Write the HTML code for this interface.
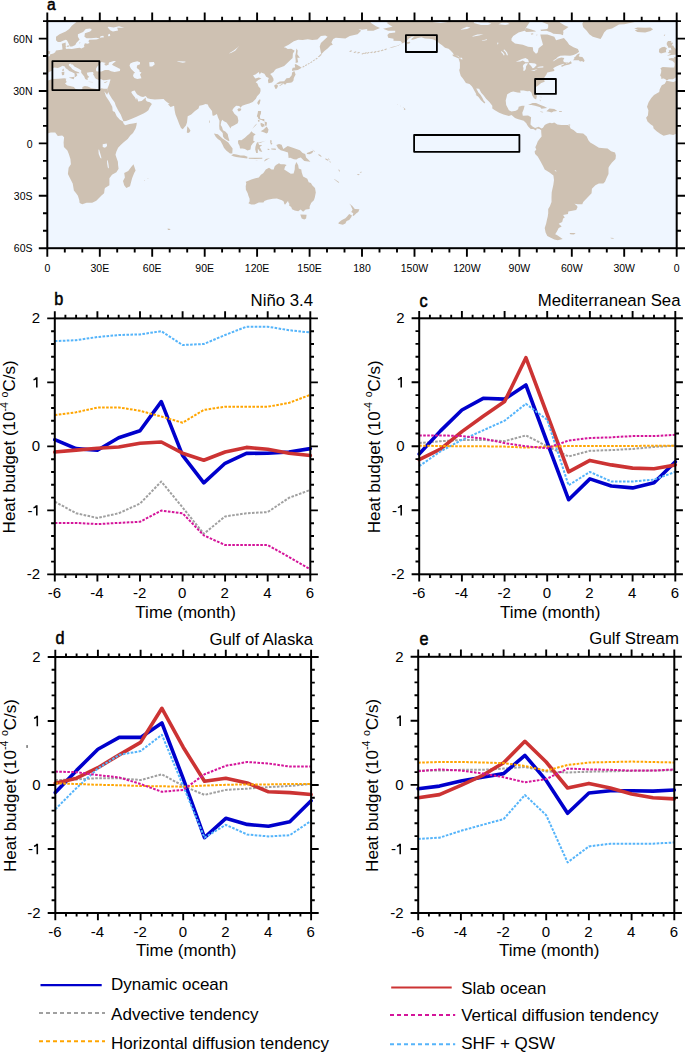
<!DOCTYPE html>
<html><head><meta charset="utf-8"><style>
html,body{margin:0;padding:0;background:#fff;width:685px;height:1053px;overflow:hidden}
svg{display:block}
text{font-family:"Liberation Sans",sans-serif;fill:#000}
.ml{font-size:10.5px}
.pl{font-size:18px;font-weight:normal;stroke:#000;stroke-width:0.55px}
.tl{font-size:15px}
.al{font-size:17px}
.tt{font-size:16.8px}
.lg{font-size:17px}
</style></head><body>
<svg width="685" height="1053" viewBox="0 0 685 1053">
<rect width="685" height="1053" fill="#fff"/>
<defs><clipPath id="mclip"><rect x="47.3" y="21.1" width="629.4" height="227.1"/></clipPath></defs>
<rect x="47.3" y="21.1" width="629.4" height="227.1" fill="#eff6ff"/>
<g clip-path="url(#mclip)">
<path d="M37.0 80.8L43.8 82.1L47.3 80.7L52.5 79.1L58.7 78.7L64.4 78.2L66.4 78.7L65.7 80.0L66.7 81.9L65.0 83.5L67.4 85.6L70.0 85.9L73.9 87.0L75.3 88.7L79.6 90.3L82.3 89.4L82.4 87.1L84.9 85.9L87.9 86.4L91.4 88.2L95.4 88.7L98.9 89.4L101.5 88.2L103.8 88.7L107.1 88.7L108.3 91.9L107.1 94.8L104.3 91.2L105.9 96.2L109.4 101.5L112.3 106.7L112.7 111.1L114.8 111.9L116.7 116.3L119.9 119.8L123.0 121.5L123.4 123.3L125.1 125.2L129.5 124.0L133.0 123.6L136.8 122.8L136.5 125.2L135.6 128.5L133.0 132.9L130.3 135.5L127.7 139.0L123.4 142.5L120.7 145.1L118.1 147.8L116.4 151.6L115.5 154.7L116.4 157.4L117.9 161.7L118.1 165.2L118.6 168.7L116.4 172.2L112.0 174.8L109.4 178.3L109.4 182.7L109.4 185.3L105.0 187.9L104.6 189.3L104.1 193.2L101.5 195.6L96.3 200.7L92.2 202.8L86.6 202.8L82.3 204.2L79.6 203.0L79.3 200.2L77.9 195.8L76.1 193.2L73.9 190.6L72.7 183.6L70.0 178.3L67.9 174.0L68.6 167.8L70.9 164.3L70.4 159.1L68.8 153.9L67.4 150.4L63.9 146.9L63.6 142.5L64.1 137.3L62.2 135.5L57.8 135.9L55.2 132.4L50.8 132.4L47.3 133.6L43.8 135.0L40.3 134.3L34.2 135.7L30.7 133.8L27.2 131.2L24.2 128.5L23.7 125.9L21.1 124.2L18.1 121.5L16.7 117.7L18.5 115.4L19.0 110.2L17.6 106.7L19.3 102.0L21.9 98.0L24.6 95.0L29.8 91.9L30.3 89.2L32.4 85.2L35.4 83.8ZM666.4 80.8L673.2 82.1L676.7 80.7L681.9 79.1L688.1 78.7L693.8 78.2L695.8 78.7L695.1 80.0L696.1 81.9L694.4 83.5L696.8 85.6L699.4 85.9L703.3 87.0L704.7 88.7L709.0 90.3L711.7 89.4L711.8 87.1L714.3 85.9L717.3 86.4L720.8 88.2L724.8 88.7L728.3 89.4L730.9 88.2L733.2 88.7L736.5 88.7L737.7 91.9L736.5 94.8L733.7 91.2L735.3 96.2L738.8 101.5L741.7 106.7L742.1 111.1L744.2 111.9L746.1 116.3L749.3 119.8L752.4 121.5L752.8 123.3L754.5 125.2L758.9 124.0L762.4 123.6L766.2 122.8L765.9 125.2L765.0 128.5L762.4 132.9L759.7 135.5L757.1 139.0L752.8 142.5L750.1 145.1L747.5 147.8L745.8 151.6L744.9 154.7L745.8 157.4L747.3 161.7L747.5 165.2L748.0 168.7L745.8 172.2L741.4 174.8L738.8 178.3L738.8 182.7L738.8 185.3L734.4 187.9L734.0 189.3L733.5 193.2L730.9 195.6L725.7 200.7L721.6 202.8L716.0 202.8L711.7 204.2L709.0 203.0L708.7 200.2L707.3 195.8L705.5 193.2L703.3 190.6L702.1 183.6L699.4 178.3L697.3 174.0L698.0 167.8L700.3 164.3L699.8 159.1L698.2 153.9L696.8 150.4L693.3 146.9L693.0 142.5L693.5 137.3L691.6 135.5L687.2 135.9L684.6 132.4L680.2 132.4L676.7 133.6L673.2 135.0L669.7 134.3L663.6 135.7L660.1 133.8L656.6 131.2L653.6 128.5L653.1 125.9L650.5 124.2L647.5 121.5L646.1 117.7L647.9 115.4L648.4 110.2L647.0 106.7L648.7 102.0L651.3 98.0L654.0 95.0L659.2 91.9L659.7 89.2L661.8 85.2L664.8 83.8ZM133.5 164.3L135.6 170.5L134.2 173.1L132.1 178.3L130.0 186.2L126.3 187.9L124.2 185.3L123.0 180.9L124.9 177.4L124.2 173.1L128.2 171.0L131.2 167.0ZM762.9 164.3L765.0 170.5L763.6 173.1L761.5 178.3L759.4 186.2L755.7 187.9L753.6 185.3L752.4 180.9L754.3 177.4L753.6 173.1L757.6 171.0L760.6 167.0ZM82.3 12.4L76.1 22.3L71.8 25.8L69.2 29.0L65.7 31.6L59.5 34.2L56.0 36.8L56.0 40.3L57.8 42.1L60.4 42.1L63.0 40.7L65.7 39.8L66.9 40.3L67.9 42.1L69.2 44.7L70.0 46.6L72.1 46.6L75.3 45.0L76.3 42.9L79.6 39.4L77.9 36.8L77.9 34.2L83.1 31.9L85.8 29.0L90.1 28.4L91.9 29.8L90.1 31.6L84.9 33.3L84.4 36.8L86.6 38.2L91.0 38.2L96.3 37.7L99.8 38.6L96.3 39.4L89.3 39.8L88.4 41.2L89.6 42.9L87.5 43.8L84.9 43.3L84.0 45.6L84.4 47.0L81.4 48.4L79.6 47.7L76.1 48.2L71.8 49.1L68.3 48.7L66.5 49.1L65.7 48.2L65.7 42.6L61.8 43.8L62.2 46.4L62.5 49.4L59.5 49.9L56.0 50.4L55.2 52.2L53.4 53.6L49.9 54.5L49.9 56.0L47.6 56.7L45.2 57.1L44.2 56.6L44.7 58.3L42.1 58.1L39.1 58.8L39.8 59.9L42.9 60.8L45.2 63.0L45.2 65.5L44.7 67.6L41.2 67.4L37.7 67.2L33.3 67.0L31.0 68.3L31.9 70.0L31.7 72.6L30.7 75.6L31.9 77.0L31.7 78.7L34.4 78.4L36.3 79.6L37.5 80.5L39.4 79.3L43.5 79.3L46.1 77.7L47.6 75.6L46.8 74.4L48.7 72.3L52.9 70.2L52.7 68.3L54.3 67.4L57.8 68.1L60.4 66.9L62.5 65.8L64.8 66.5L65.7 68.3L67.4 69.3L69.2 70.9L71.8 72.1L74.6 73.5L74.7 76.7L75.6 77.0L77.4 75.3L76.3 73.3L79.6 73.2L78.8 72.3L75.3 70.9L72.1 69.1L71.1 67.4L68.8 65.6L69.0 64.1L71.3 63.6L71.1 64.6L72.7 64.4L74.4 66.5L77.9 68.3L81.2 70.2L81.2 72.8L82.6 74.4L84.2 76.5L85.2 79.1L86.6 79.8L87.9 79.8L87.5 77.9L89.3 77.0L87.5 75.3L86.8 72.8L89.3 72.3L92.8 72.1L93.6 73.0L93.1 74.4L94.2 76.1L95.0 77.9L96.3 79.1L98.9 80.1L100.8 79.1L103.2 80.3L106.7 80.0L109.4 79.4L110.6 79.4L109.9 81.4L109.4 83.6L108.5 86.1L107.3 88.7L108.3 91.9L109.4 94.5L112.0 98.8L114.6 102.3L115.8 105.8L118.1 110.2L120.7 114.6L122.1 118.1L123.4 121.2L126.0 121.0L131.2 118.9L136.5 116.8L138.6 115.8L143.5 113.5L146.1 111.9L148.4 110.2L149.6 107.6L151.9 104.1L149.9 102.2L147.0 101.5L145.7 99.9L145.9 97.4L144.3 98.8L141.7 101.1L138.2 101.5L137.5 99.2L136.8 97.8L136.1 100.1L135.1 97.6L133.8 96.0L132.1 93.8L131.2 91.9L132.6 91.0L134.7 90.6L136.1 92.9L137.3 94.6L140.8 96.6L143.1 97.1L145.7 96.0L147.5 98.3L150.5 99.0L154.8 99.4L159.2 99.2L163.6 99.0L165.0 100.4L167.1 102.3L169.7 104.1L167.9 104.3L170.6 107.0L174.1 105.8L174.6 110.2L175.5 114.6L177.6 119.8L179.3 124.2L181.0 128.0L182.8 129.2L184.0 127.8L185.9 125.4L187.0 122.4L187.7 116.3L191.2 114.4L195.0 111.1L198.5 108.4L199.4 105.8L202.9 105.0L205.5 104.1L207.8 104.4L208.7 106.7L212.0 111.1L212.5 115.4L213.9 115.8L216.9 114.0L217.9 117.2L219.5 120.7L219.2 125.9L219.5 129.4L222.7 132.9L223.0 136.4L224.4 138.5L228.3 141.1L229.5 140.8L228.3 136.9L227.7 134.1L225.3 131.5L223.0 130.3L222.0 127.1L220.7 125.0L221.3 121.5L222.3 119.8L223.9 121.2L226.5 122.4L228.3 125.0L230.5 128.4L231.2 126.8L233.8 125.4L237.7 123.3L238.4 120.7L237.5 116.5L234.4 113.7L232.3 110.2L233.7 107.9L236.1 105.8L239.3 106.0L240.5 107.7L242.2 105.8L245.7 104.6L249.2 103.6L252.7 102.0L255.9 98.8L257.1 96.2L259.7 93.6L260.6 91.0L260.4 88.4L258.5 86.6L257.4 83.5L255.7 82.2L258.3 80.1L261.5 78.4L258.8 77.5L255.4 78.4L254.0 76.7L253.1 75.3L255.4 74.4L258.8 72.1L259.7 74.4L261.1 72.6L264.4 73.7L266.2 76.7L268.8 77.9L267.9 80.5L268.5 83.3L272.0 82.4L273.5 80.8L273.5 78.7L272.0 76.1L270.2 73.9L273.7 72.1L274.2 70.9L276.0 69.1L279.0 67.9L284.2 66.0L289.4 60.9L292.6 58.1L292.9 53.4L294.7 50.8L291.2 48.7L287.7 49.1L285.9 47.7L283.7 47.3L288.6 44.7L293.8 41.2L298.2 39.8L302.6 40.0L307.8 39.3L312.2 40.0L317.4 39.4L320.9 35.9L325.3 35.4L327.6 36.8L320.9 42.9L319.7 46.4L320.9 52.5L321.3 54.3L324.4 51.1L327.9 48.2L330.5 45.6L332.8 44.7L331.4 42.4L333.2 38.9L335.8 37.7L345.4 38.6L349.8 35.9L357.6 34.2L361.1 30.7L358.5 29.0L362.0 29.8L367.2 29.0L367.2 30.7L373.4 30.7L380.0 27.9L376.0 26.3L370.7 22.8L370.7 12.4ZM711.7 12.4L705.5 22.3L701.2 25.8L698.6 29.0L695.1 31.6L688.9 34.2L685.4 36.8L685.4 40.3L687.2 42.1L689.8 42.1L692.4 40.7L695.1 39.8L696.3 40.3L697.3 42.1L698.6 44.7L699.4 46.6L701.5 46.6L704.7 45.0L705.7 42.9L709.0 39.4L707.3 36.8L707.3 34.2L712.5 31.9L715.2 29.0L719.5 28.4L721.3 29.8L719.5 31.6L714.3 33.3L713.8 36.8L716.0 38.2L720.4 38.2L725.7 37.7L729.2 38.6L725.7 39.4L718.7 39.8L717.8 41.2L719.0 42.9L716.9 43.8L714.3 43.3L713.4 45.6L713.8 47.0L710.8 48.4L709.0 47.7L705.5 48.2L701.2 49.1L697.7 48.7L695.9 49.1L695.1 48.2L695.1 42.6L691.2 43.8L691.6 46.4L691.9 49.4L688.9 49.9L685.4 50.4L684.6 52.2L682.8 53.6L679.3 54.5L679.3 56.0L677.0 56.7L674.6 57.1L673.6 56.6L674.1 58.3L671.5 58.1L668.5 58.8L669.2 59.9L672.3 60.8L674.6 63.0L674.6 65.5L674.1 67.6L670.6 67.4L667.1 67.2L662.7 67.0L660.4 68.3L661.3 70.0L661.1 72.6L660.1 75.6L661.3 77.0L661.1 78.7L663.8 78.4L665.7 79.6L666.9 80.5L668.8 79.3L672.9 79.3L675.5 77.7L677.0 75.6L676.2 74.4L678.1 72.3L682.3 70.2L682.1 68.3L683.7 67.4L687.2 68.1L689.8 66.9L691.9 65.8L694.2 66.5L695.1 68.3L696.8 69.3L698.6 70.9L701.2 72.1L704.0 73.5L704.1 76.7L705.0 77.0L706.8 75.3L705.7 73.3L709.0 73.2L708.2 72.3L704.7 70.9L701.5 69.1L700.5 67.4L698.2 65.6L698.4 64.1L700.7 63.6L700.5 64.6L702.1 64.4L703.8 66.5L707.3 68.3L710.6 70.2L710.6 72.8L712.0 74.4L713.6 76.5L714.6 79.1L716.0 79.8L717.3 79.8L716.9 77.9L718.7 77.0L716.9 75.3L716.2 72.8L718.7 72.3L722.2 72.1L723.0 73.0L722.5 74.4L723.6 76.1L724.4 77.9L725.7 79.1L728.3 80.1L730.2 79.1L732.6 80.3L736.1 80.0L738.8 79.4L740.0 79.4L739.3 81.4L738.8 83.6L737.9 86.1L736.7 88.7L737.7 91.9L738.8 94.5L741.4 98.8L744.0 102.3L745.2 105.8L747.5 110.2L750.1 114.6L751.5 118.1L752.8 121.2L755.4 121.0L760.6 118.9L765.9 116.8L768.0 115.8L772.9 113.5L775.5 111.9L777.8 110.2L779.0 107.6L781.3 104.1L779.3 102.2L776.4 101.5L775.1 99.9L775.3 97.4L773.7 98.8L771.1 101.1L767.6 101.5L766.9 99.2L766.2 97.8L765.5 100.1L764.5 97.6L763.2 96.0L761.5 93.8L760.6 91.9L762.0 91.0L764.1 90.6L765.5 92.9L766.7 94.6L770.2 96.6L772.5 97.1L775.1 96.0L776.9 98.3L779.9 99.0L784.2 99.4L788.6 99.2L793.0 99.0L794.4 100.4L796.5 102.3L799.1 104.1L797.3 104.3L800.0 107.0L803.5 105.8L804.0 110.2L804.9 114.6L807.0 119.8L808.7 124.2L810.4 128.0L812.2 129.2L813.4 127.8L815.3 125.4L816.4 122.4L817.1 116.3L820.6 114.4L824.4 111.1L827.9 108.4L828.8 105.8L832.3 105.0L834.9 104.1L837.2 104.4L838.1 106.7L841.4 111.1L841.9 115.4L843.3 115.8L846.3 114.0L847.3 117.2L848.9 120.7L848.6 125.9L848.9 129.4L852.1 132.9L852.4 136.4L853.8 138.5L857.7 141.1L858.9 140.8L857.7 136.9L857.1 134.1L854.7 131.5L852.4 130.3L851.4 127.1L850.1 125.0L850.7 121.5L851.7 119.8L853.3 121.2L855.9 122.4L857.7 125.0L859.9 128.4L860.6 126.8L863.2 125.4L867.1 123.3L867.8 120.7L866.9 116.5L863.8 113.7L861.7 110.2L863.1 107.9L865.5 105.8L868.7 106.0L869.9 107.7L871.6 105.8L875.1 104.6L878.6 103.6L882.1 102.0L885.3 98.8L886.5 96.2L889.1 93.6L890.0 91.0L889.8 88.4L887.9 86.6L886.8 83.5L885.1 82.2L887.7 80.1L890.9 78.4L888.2 77.5L884.8 78.4L883.4 76.7L882.5 75.3L884.8 74.4L888.2 72.1L889.1 74.4L890.5 72.6L893.8 73.7L895.6 76.7L898.2 77.9L897.3 80.5L897.9 83.3L901.4 82.4L902.9 80.8L902.9 78.7L901.4 76.1L899.6 73.9L903.1 72.1L903.6 70.9L905.4 69.1L908.4 67.9L913.6 66.0L918.8 60.9L922.0 58.1L922.3 53.4L924.1 50.8L920.6 48.7L917.1 49.1L915.3 47.7L913.1 47.3L918.0 44.7L923.2 41.2L927.6 39.8L932.0 40.0L937.2 39.3L941.6 40.0L946.8 39.4L950.3 35.9L954.7 35.4L957.0 36.8L950.3 42.9L949.1 46.4L950.3 52.5L950.7 54.3L953.8 51.1L957.3 48.2L959.9 45.6L962.2 44.7L960.8 42.4L962.6 38.9L965.2 37.7L974.8 38.6L979.2 35.9L987.0 34.2L990.5 30.7L987.9 29.0L991.4 29.8L996.6 29.0L996.6 30.7L1002.8 30.7L1009.4 27.9L1005.4 26.3L1000.1 22.8L1000.1 12.4ZM37.3 56.0L42.1 55.0L45.6 54.8L49.7 53.9L50.3 51.5L47.8 50.8L47.3 49.7L44.7 47.3L43.8 45.6L42.1 45.6L43.8 42.8L41.2 42.6L42.1 41.0L38.6 41.0L37.3 42.9L37.5 45.0L38.6 46.4L38.9 47.7L41.5 47.7L41.7 49.1L42.1 50.3L39.4 50.3L39.8 51.7L38.2 52.9L41.7 53.6ZM666.7 56.0L671.5 55.0L675.0 54.8L679.1 53.9L679.7 51.5L677.2 50.8L676.7 49.7L674.1 47.3L673.2 45.6L671.5 45.6L673.2 42.8L670.6 42.6L671.5 41.0L668.0 41.0L666.7 42.9L666.9 45.0L668.0 46.4L668.3 47.7L670.9 47.7L671.1 49.1L671.5 50.3L668.8 50.3L669.2 51.7L667.6 52.9L671.1 53.6ZM36.8 52.5L36.5 50.3L37.5 48.2L35.1 46.8L32.4 47.3L29.8 49.1L29.5 52.2L31.6 53.4L36.3 52.2ZM666.2 52.5L665.9 50.3L666.9 48.2L664.5 46.8L661.8 47.3L659.2 49.1L658.9 52.2L661.0 53.4L665.7 52.2ZM8.0 31.9L5.3 30.2L8.8 29.5L4.8 28.8L8.0 27.4L15.8 27.7L21.1 27.4L23.7 29.3L21.1 31.1L15.8 32.6L11.5 32.3ZM637.4 31.9L634.7 30.2L638.2 29.5L634.2 28.8L637.4 27.4L645.2 27.7L650.5 27.4L653.1 29.3L650.5 31.1L645.2 32.6L640.9 32.3ZM-28.8 38.9L-36.6 36.8L-40.1 34.2L-42.7 30.7L-46.2 27.2L-47.1 23.7L-45.4 20.2L-48.9 12.4L12.3 12.4L8.8 19.4L5.3 22.0L-5.2 24.2L-10.4 24.6L-17.4 28.6L-22.6 29.8L-25.3 32.5L-27.0 35.9ZM600.6 38.9L592.8 36.8L589.3 34.2L586.7 30.7L583.2 27.2L582.3 23.7L584.0 20.2L580.5 12.4L641.7 12.4L638.2 19.4L634.7 22.0L624.2 24.2L619.0 24.6L612.0 28.6L606.8 29.8L604.1 32.5L602.4 35.9ZM276.2 84.0L277.2 82.9L279.8 81.4L284.2 81.2L286.5 78.2L289.4 77.9L291.7 75.3L292.1 72.6L294.3 71.1L295.6 74.4L293.8 77.9L293.5 80.5L292.1 82.2L290.3 82.8L286.8 82.9L285.1 84.7L283.3 83.5L280.7 83.5L278.1 84.2ZM905.6 84.0L906.6 82.9L909.2 81.4L913.6 81.2L915.9 78.2L918.8 77.9L921.1 75.3L921.5 72.6L923.7 71.1L925.0 74.4L923.2 77.9L922.9 80.5L921.5 82.2L919.7 82.8L916.2 82.9L914.5 84.7L912.7 83.5L910.1 83.5L907.5 84.2ZM274.6 84.9L276.3 84.2L278.1 85.7L276.9 88.5L275.5 88.9L274.2 86.1ZM904.0 84.9L905.7 84.2L907.5 85.7L906.3 88.5L904.9 88.9L903.6 86.1ZM279.0 85.7L282.5 83.6L282.8 84.3L280.2 85.7ZM908.4 85.7L911.9 83.6L912.2 84.3L909.6 85.7ZM292.1 70.9L294.2 70.4L297.8 70.0L301.7 67.7L299.9 66.5L295.6 63.9L294.7 64.8L295.2 67.4L292.8 67.7L292.1 69.3ZM921.5 70.9L923.6 70.4L927.2 70.0L931.1 67.7L929.3 66.5L925.0 63.9L924.1 64.8L924.6 67.4L922.2 67.7L921.5 69.3ZM295.6 63.0L298.2 62.2L297.3 57.8L299.9 57.8L297.3 54.3L297.7 50.4L296.4 48.5L295.9 52.5L295.2 56.0L295.7 60.4ZM925.0 63.0L927.6 62.2L926.7 57.8L929.3 57.8L926.7 54.3L927.1 50.4L925.8 48.5L925.3 52.5L924.6 56.0L925.1 60.4ZM257.4 103.6L258.7 105.1L259.7 103.6L260.6 99.7L259.2 99.5L257.4 102.3ZM886.8 103.6L888.1 105.1L889.1 103.6L890.0 99.7L888.6 99.5L886.8 102.3ZM237.3 109.8L238.7 111.6L240.5 110.7L241.4 109.0L240.1 108.3L238.2 108.4ZM866.7 109.8L868.1 111.6L869.9 110.7L870.8 109.0L869.5 108.3L867.6 108.4ZM258.0 110.9L261.1 111.1L260.9 113.7L259.9 116.0L260.1 118.4L261.5 118.9L264.3 119.1L264.4 121.4L262.9 120.7L261.6 120.0L259.5 119.6L258.1 118.6L258.0 117.5L256.8 116.3L257.3 114.7L257.8 112.8ZM887.4 110.9L890.5 111.1L890.3 113.7L889.3 116.0L889.5 118.4L890.9 118.9L893.7 119.1L893.8 121.4L892.3 120.7L891.0 120.0L888.9 119.6L887.5 118.6L887.4 117.5L886.2 116.3L886.7 114.7L887.2 112.8ZM260.6 131.2L263.2 129.8L264.6 128.5L266.7 126.4L268.5 129.4L267.9 132.4L266.5 133.6L264.3 132.4L260.9 131.3ZM890.0 131.2L892.6 129.8L894.0 128.5L896.1 126.4L897.9 129.4L897.3 132.4L895.9 133.6L893.7 132.4L890.3 131.3ZM264.6 121.5L267.1 122.4L266.4 125.9L265.0 125.6ZM894.0 121.5L896.5 122.4L895.8 125.9L894.4 125.6ZM260.6 122.8L262.7 123.6L264.1 125.0L262.9 127.3L261.5 126.8L260.6 124.9ZM890.0 122.8L892.1 123.6L893.5 125.0L892.3 127.3L890.9 126.8L890.0 124.9ZM252.2 128.7L256.2 125.0L256.8 123.6L255.0 125.2ZM881.6 128.7L885.6 125.0L886.2 123.6L884.4 125.2ZM237.9 140.8L239.1 139.9L241.4 140.2L244.9 137.8L247.5 135.3L249.2 134.1L251.5 131.2L253.1 132.9L255.7 134.3L253.6 135.9L253.3 140.8L255.0 141.6L252.7 143.4L251.0 146.0L250.5 149.5L247.5 150.4L244.9 149.0L242.6 148.6L240.0 148.5L239.6 146.0L238.2 143.4ZM867.3 140.8L868.5 139.9L870.8 140.2L874.3 137.8L876.9 135.3L878.6 134.1L880.9 131.2L882.5 132.9L885.1 134.3L883.0 135.9L882.7 140.8L884.4 141.6L882.1 143.4L880.4 146.0L879.9 149.5L876.9 150.4L874.3 149.0L872.0 148.6L869.4 148.5L869.0 146.0L867.6 143.4ZM213.9 133.6L217.8 134.3L222.5 138.5L224.8 139.9L228.3 142.5L230.0 145.1L232.6 148.6L232.3 153.5L230.0 153.5L226.2 150.4L223.9 147.8L222.7 145.1L220.4 140.8L217.8 139.0L215.7 136.7ZM843.3 133.6L847.2 134.3L851.9 138.5L854.2 139.9L857.7 142.5L859.4 145.1L862.0 148.6L861.7 153.5L859.4 153.5L855.6 150.4L853.3 147.8L852.1 145.1L849.8 140.8L847.2 139.0L845.1 136.7ZM231.2 155.3L233.5 153.9L236.6 154.4L240.5 155.4L244.2 155.4L247.5 156.8L247.3 158.6L241.4 157.7L236.1 157.0L233.3 156.3ZM860.6 155.3L862.9 153.9L866.0 154.4L869.9 155.4L873.6 155.4L876.9 156.8L876.7 158.6L870.8 157.7L865.5 157.0L862.7 156.3ZM248.7 157.7L255.4 157.7L262.3 157.7L262.3 158.8L255.4 158.9L248.7 158.8ZM878.1 157.7L884.8 157.7L891.7 157.7L891.7 158.8L884.8 158.9L878.1 158.8ZM264.1 160.9L265.8 159.1L269.9 158.1L266.7 160.0L264.1 161.4ZM893.5 160.9L895.2 159.1L899.3 158.1L896.1 160.0L893.5 161.4ZM255.4 160.0L258.5 161.0L256.2 160.5ZM884.8 160.0L887.9 161.0L885.6 160.5ZM255.2 149.5L256.2 153.0L257.8 153.0L257.8 148.5L259.7 151.2L262.3 152.1L259.7 146.9L262.3 145.1L259.2 145.1L258.0 142.3L262.3 141.8L265.8 140.8L260.6 142.7L257.1 142.2L256.2 144.3L255.4 146.9ZM884.6 149.5L885.6 153.0L887.2 153.0L887.2 148.5L889.1 151.2L891.7 152.1L889.1 146.9L891.7 145.1L888.6 145.1L887.4 142.3L891.7 141.8L895.2 140.8L890.0 142.7L886.5 142.2L885.6 144.3L884.8 146.9ZM270.2 139.9L272.0 140.8L271.1 142.5L272.5 142.9L271.1 145.0L270.2 142.5ZM899.6 139.9L901.4 140.8L900.5 142.5L901.9 142.9L900.5 145.0L899.6 142.5ZM271.1 148.5L275.5 148.6L276.0 150.0L271.4 149.5ZM900.5 148.5L904.9 148.6L905.4 150.0L900.8 149.5ZM267.6 148.8L269.7 149.1L269.0 150.0L267.6 149.7ZM897.0 148.8L899.1 149.1L898.4 150.0L897.0 149.7ZM276.3 145.1L279.0 144.1L281.6 144.8L283.3 149.1L287.7 146.0L292.1 147.6L296.4 149.0L299.9 150.2L302.6 153.0L305.2 153.9L306.1 157.4L308.7 160.0L310.4 161.7L304.3 160.9L300.8 157.4L298.2 158.2L296.4 159.6L293.8 159.3L290.3 157.7L288.6 157.9L288.0 152.5L284.2 151.2L280.7 150.2L278.1 148.3L276.9 146.0ZM905.7 145.1L908.4 144.1L911.0 144.8L912.7 149.1L917.1 146.0L921.5 147.6L925.8 149.0L929.3 150.2L932.0 153.0L934.6 153.9L935.5 157.4L938.1 160.0L939.8 161.7L933.7 160.9L930.2 157.4L927.6 158.2L925.8 159.6L923.2 159.3L919.7 157.7L918.0 157.9L917.4 152.5L913.6 151.2L910.1 150.2L907.5 148.3L906.3 146.0ZM306.9 153.0L309.6 152.1L312.2 150.7L313.4 150.9L312.2 153.0L309.6 154.2L306.9 153.9ZM936.3 153.0L939.0 152.1L941.6 150.7L942.8 150.9L941.6 153.0L939.0 154.2L936.3 153.9ZM310.9 148.1L313.9 150.4L315.0 151.4L314.4 151.8L312.2 149.0ZM940.3 148.1L943.3 150.4L944.4 151.4L943.8 151.8L941.6 149.0ZM318.3 153.9L320.0 154.7L321.8 156.5L320.9 156.7L318.6 155.3ZM947.7 153.9L949.4 154.7L951.2 156.5L950.3 156.7L948.0 155.3ZM325.3 158.2L328.4 159.8L328.1 160.5L325.6 159.8ZM954.7 158.2L957.8 159.8L957.5 160.5L955.0 159.8ZM328.4 157.9L329.7 160.0L329.1 160.2L328.1 158.2ZM957.8 157.9L959.1 160.0L958.5 160.2L957.5 158.2ZM329.3 161.2L331.2 162.1L330.7 162.4L329.5 161.9ZM958.7 161.2L960.6 162.1L960.1 162.4L958.9 161.9ZM338.6 169.1L339.8 170.5L339.6 171.9L338.6 170.6ZM968.0 169.1L969.2 170.5L969.0 171.9L968.0 170.6ZM334.0 178.7L339.3 182.3L338.4 182.7L334.4 179.5ZM963.4 178.7L968.7 182.3L967.8 182.7L963.8 179.5ZM357.3 174.0L359.6 174.3L359.0 175.2L357.3 174.8ZM986.7 174.0L989.0 174.3L988.4 175.2L986.7 174.8ZM359.9 171.9L362.0 171.7L361.1 172.7L359.9 172.6ZM989.3 171.9L991.4 171.7L990.5 172.7L989.3 172.6ZM245.7 181.8L246.6 181.5L251.3 179.4L255.4 178.3L258.8 177.4L260.9 174.8L263.2 173.3L264.1 171.9L265.8 169.6L269.0 167.7L271.6 169.6L273.7 169.6L274.6 166.4L276.0 165.0L279.0 163.3L280.7 164.2L284.2 164.3L286.6 164.9L285.1 166.6L284.2 169.6L287.7 171.7L290.8 173.8L293.6 173.6L294.7 169.6L294.9 165.4L296.4 162.1L298.2 165.2L298.7 168.5L301.3 169.6L301.7 172.2L303.1 176.6L307.3 178.8L308.7 182.2L310.9 182.9L312.2 185.3L315.0 187.9L315.8 192.6L314.8 197.5L313.9 200.2L311.3 202.8L309.7 206.3L309.6 208.9L305.7 209.6L303.1 211.7L300.6 209.6L298.2 211.2L294.7 210.5L292.1 209.2L291.2 207.1L289.1 205.6L289.4 203.7L288.7 203.1L288.0 201.0L285.2 204.5L284.4 204.2L283.7 201.4L281.9 200.2L276.9 198.4L272.8 198.8L267.6 199.8L264.4 201.0L263.4 202.6L258.8 202.4L254.5 204.4L251.2 204.5L248.4 203.3L249.6 201.6L249.6 198.8L248.4 195.8L247.7 193.2L245.9 189.7L245.7 186.2L246.3 183.6ZM875.1 181.8L876.0 181.5L880.7 179.4L884.8 178.3L888.2 177.4L890.3 174.8L892.6 173.3L893.5 171.9L895.2 169.6L898.4 167.7L901.0 169.6L903.1 169.6L904.0 166.4L905.4 165.0L908.4 163.3L910.1 164.2L913.6 164.3L916.0 164.9L914.5 166.6L913.6 169.6L917.1 171.7L920.2 173.8L923.0 173.6L924.1 169.6L924.3 165.4L925.8 162.1L927.6 165.2L928.1 168.5L930.7 169.6L931.1 172.2L932.5 176.6L936.7 178.8L938.1 182.2L940.3 182.9L941.6 185.3L944.4 187.9L945.2 192.6L944.2 197.5L943.3 200.2L940.7 202.8L939.1 206.3L939.0 208.9L935.1 209.6L932.5 211.7L930.0 209.6L927.6 211.2L924.1 210.5L921.5 209.2L920.6 207.1L918.5 205.6L918.8 203.7L918.1 203.1L917.4 201.0L914.6 204.5L913.8 204.2L913.1 201.4L911.3 200.2L906.3 198.4L902.2 198.8L897.0 199.8L893.8 201.0L892.8 202.6L888.2 202.4L883.9 204.4L880.6 204.5L877.8 203.3L879.0 201.6L879.0 198.8L877.8 195.8L877.1 193.2L875.3 189.7L875.1 186.2L875.7 183.6ZM300.3 214.5L306.6 214.8L306.1 218.5L304.3 219.6L301.7 218.5ZM929.7 214.5L936.0 214.8L935.5 218.5L933.7 219.6L931.1 218.5ZM349.2 203.5L352.4 205.9L354.8 208.9L359.4 209.2L358.3 211.9L356.4 213.3L353.6 216.1L352.6 215.4L353.3 213.3L351.2 211.9L352.6 209.8L350.6 205.2ZM978.6 203.5L981.8 205.9L984.2 208.9L988.8 209.2L987.7 211.9L985.8 213.3L983.0 216.1L982.0 215.4L982.7 213.3L980.6 211.9L982.0 209.8L980.0 205.2ZM349.2 214.1L352.0 215.4L351.2 217.3L349.2 219.9L346.6 221.1L345.4 223.6L342.8 224.8L338.4 223.7L338.7 222.5L341.5 220.2L345.4 218.3L347.1 216.4ZM978.6 214.1L981.4 215.4L980.6 217.3L978.6 219.9L976.0 221.1L974.8 223.6L972.2 224.8L967.8 223.7L968.1 222.5L970.9 220.2L974.8 218.3L976.5 216.4ZM186.8 132.6L187.3 126.3L188.9 128.0L190.5 130.8L189.3 132.6L188.0 133.1ZM816.2 132.6L816.7 126.3L818.3 128.0L819.9 130.8L818.7 132.6L817.4 133.1ZM-225.4 12.4L-226.3 18.8L-232.4 20.2L-237.7 21.1L-242.9 22.8L-239.4 25.3L-236.8 26.5L-239.4 27.2L-246.4 28.8L-241.2 30.7L-234.2 30.7L-234.2 32.5L-240.3 33.2L-242.0 35.1L-241.2 37.7L-235.9 38.7L-235.9 40.8L-228.9 41.0L-227.2 42.9L-230.7 45.6L-235.9 47.3L-240.3 48.2L-237.7 47.0L-232.4 45.7L-228.1 43.8L-224.6 42.2L-221.9 40.3L-220.5 38.6L-217.6 36.8L-215.0 36.5L-217.6 38.6L-218.1 40.0L-215.0 39.3L-211.5 37.9L-208.0 37.2L-204.5 38.4L-200.1 38.7L-196.6 39.3L-192.2 41.2L-190.5 42.9L-187.0 45.6L-184.4 47.8L-180.9 48.7L-179.1 50.3L-176.5 53.1L-175.6 54.8L-172.1 56.0L-169.5 57.8L-167.4 57.8L-166.9 59.5L-170.7 58.8L-169.5 62.7L-169.5 68.3L-170.2 70.0L-169.5 73.0L-168.6 76.1L-166.9 77.9L-165.8 79.6L-163.5 82.9L-159.9 84.0L-157.6 86.3L-156.6 87.8L-155.3 90.3L-152.9 94.5L-153.9 94.8L-151.1 96.7L-148.5 100.2L-145.0 103.4L-144.1 102.3L-145.5 101.1L-146.8 98.3L-148.9 94.8L-150.8 92.7L-153.2 88.4L-150.3 88.7L-148.2 92.7L-145.9 95.3L-143.3 98.8L-139.8 102.3L-137.1 105.8L-137.1 108.4L-134.5 110.2L-130.2 112.8L-125.8 114.4L-120.5 116.0L-117.9 115.1L-114.4 118.1L-111.8 119.1L-108.3 120.0L-105.7 120.7L-103.1 123.3L-102.2 125.0L-101.0 126.8L-98.7 128.9L-96.1 129.1L-93.4 130.6L-92.6 128.5L-89.9 128.9L-88.2 130.3L-88.2 132.0L-87.8 136.4L-89.9 139.0L-91.7 141.6L-92.7 144.3L-94.1 147.2L-93.1 149.5L-94.8 151.6L-94.3 153.9L-91.7 156.5L-89.1 160.9L-86.4 166.1L-84.7 169.6L-79.5 172.7L-76.0 175.4L-75.4 180.1L-76.0 184.4L-77.7 192.3L-77.9 197.5L-77.9 201.9L-79.5 206.3L-81.2 208.9L-81.2 213.3L-81.7 216.8L-82.4 219.4L-83.3 223.7L-84.7 228.1L-83.8 232.5L-82.1 236.0L-78.6 237.7L-75.1 239.5L-71.6 240.3L-66.7 238.9L-72.5 235.1L-74.2 234.2L-72.5 231.6L-70.7 228.1L-67.7 226.4L-70.7 223.7L-67.2 222.0L-66.3 218.5L-64.6 217.6L-66.3 215.0L-61.4 214.1L-61.1 211.5L-53.2 210.1L-51.8 207.0L-52.7 205.4L-55.0 203.7L-51.5 204.2L-47.1 204.2L-46.2 201.9L-41.9 197.5L-37.8 193.2L-37.5 188.8L-34.0 185.3L-30.5 183.6L-26.1 183.6L-24.4 181.8L-22.6 177.4L-20.9 174.0L-20.9 167.8L-20.0 166.1L-17.4 162.6L-13.9 159.1L-13.5 155.6L-14.4 152.6L-18.3 151.2L-21.8 148.6L-25.3 148.3L-30.5 147.8L-35.7 144.6L-39.2 142.5L-41.0 140.2L-42.7 136.4L-46.2 133.6L-52.4 132.9L-55.9 129.9L-58.8 128.5L-60.2 125.0L-64.6 124.9L-68.1 124.9L-72.1 124.5L-75.1 122.4L-77.4 123.3L-79.5 122.8L-82.4 123.8L-84.7 125.0L-86.4 127.7L-87.8 128.4L-90.8 126.8L-94.3 128.0L-96.9 126.6L-98.9 124.5L-98.7 121.5L-98.3 117.2L-101.3 115.6L-106.6 115.8L-107.1 112.8L-105.7 109.3L-104.8 105.8L-107.4 105.8L-110.7 106.7L-111.3 109.3L-113.5 110.7L-117.9 111.6L-120.5 110.2L-121.9 107.6L-123.2 105.0L-123.7 100.6L-122.6 96.2L-122.3 94.5L-118.8 92.2L-116.2 91.5L-111.8 92.4L-108.8 92.7L-109.2 90.5L-105.7 90.5L-102.2 91.3L-99.6 91.0L-97.8 92.7L-97.3 95.3L-95.5 98.3L-93.3 99.4L-92.6 96.6L-93.4 93.6L-94.8 90.1L-94.3 87.5L-91.2 85.4L-88.2 83.1L-84.7 81.7L-85.6 78.7L-84.7 77.0L-83.0 74.4L-82.1 72.5L-78.6 71.8L-75.1 70.9L-75.1 69.7L-76.3 68.3L-73.3 66.5L-69.8 65.1L-68.1 64.4L-65.6 63.7L-65.5 64.4L-68.1 65.5L-67.7 67.0L-64.6 65.6L-60.2 64.4L-57.6 63.2L-58.6 61.3L-60.2 62.5L-62.8 63.4L-65.6 62.0L-66.2 60.2L-65.1 58.0L-68.1 57.4L-71.6 58.5L-75.1 60.8L-76.7 61.5L-75.4 60.1L-73.3 58.8L-71.6 57.1L-69.0 55.7L-64.6 55.5L-59.3 55.7L-55.9 55.0L-52.7 53.4L-50.3 51.7L-51.5 49.1L-55.9 47.3L-60.2 44.7L-62.0 42.1L-65.5 38.0L-73.3 40.3L-75.1 36.8L-82.1 34.6L-89.1 34.4L-88.2 38.6L-87.3 41.5L-86.4 44.7L-90.8 48.2L-91.7 52.5L-93.4 53.8L-96.1 51.1L-96.6 47.3L-101.3 46.8L-106.6 44.7L-114.4 43.6L-117.9 40.8L-117.9 38.6L-116.2 35.9L-110.9 32.5L-104.8 30.7L-103.1 27.2L-99.6 22.0L-101.3 12.4ZM404.0 12.4L403.1 18.8L397.0 20.2L391.7 21.1L386.5 22.8L390.0 25.3L392.6 26.5L390.0 27.2L383.0 28.8L388.2 30.7L395.2 30.7L395.2 32.5L389.1 33.2L387.4 35.1L388.2 37.7L393.5 38.7L393.5 40.8L400.5 41.0L402.2 42.9L398.7 45.6L393.5 47.3L389.1 48.2L391.7 47.0L397.0 45.7L401.3 43.8L404.8 42.2L407.5 40.3L408.9 38.6L411.8 36.8L414.5 36.5L411.8 38.6L411.3 40.0L414.5 39.3L417.9 37.9L421.4 37.2L424.9 38.4L429.3 38.7L432.8 39.3L437.2 41.2L438.9 42.9L442.4 45.6L445.0 47.8L448.5 48.7L450.3 50.3L452.9 53.1L453.8 54.8L457.3 56.0L459.9 57.8L462.0 57.8L462.5 59.5L458.7 58.8L459.9 62.7L459.9 68.3L459.2 70.0L459.9 73.0L460.8 76.1L462.5 77.9L463.6 79.6L465.9 82.9L469.5 84.0L471.8 86.3L472.8 87.8L474.1 90.3L476.5 94.5L475.5 94.8L478.3 96.7L480.9 100.2L484.4 103.4L485.3 102.3L483.9 101.1L482.6 98.3L480.5 94.8L478.6 92.7L476.2 88.4L479.1 88.7L481.2 92.7L483.5 95.3L486.1 98.8L489.6 102.3L492.3 105.8L492.3 108.4L494.9 110.2L499.2 112.8L503.6 114.4L508.9 116.0L511.5 115.1L515.0 118.1L517.6 119.1L521.1 120.0L523.7 120.7L526.3 123.3L527.2 125.0L528.4 126.8L530.7 128.9L533.3 129.1L536.0 130.6L536.8 128.5L539.5 128.9L541.2 130.3L541.2 132.0L541.6 136.4L539.5 139.0L537.7 141.6L536.7 144.3L535.3 147.2L536.3 149.5L534.6 151.6L535.1 153.9L537.7 156.5L540.3 160.9L543.0 166.1L544.7 169.6L549.9 172.7L553.4 175.4L554.0 180.1L553.4 184.4L551.7 192.3L551.5 197.5L551.5 201.9L549.9 206.3L548.2 208.9L548.2 213.3L547.7 216.8L547.0 219.4L546.1 223.7L544.7 228.1L545.6 232.5L547.3 236.0L550.8 237.7L554.3 239.5L557.8 240.3L562.7 238.9L556.9 235.1L555.2 234.2L556.9 231.6L558.7 228.1L561.7 226.4L558.7 223.7L562.2 222.0L563.1 218.5L564.8 217.6L563.1 215.0L568.0 214.1L568.3 211.5L576.2 210.1L577.6 207.0L576.7 205.4L574.4 203.7L577.9 204.2L582.3 204.2L583.2 201.9L587.5 197.5L591.6 193.2L591.9 188.8L595.4 185.3L598.9 183.6L603.3 183.6L605.0 181.8L606.8 177.4L608.5 174.0L608.5 167.8L609.4 166.1L612.0 162.6L615.5 159.1L615.9 155.6L615.0 152.6L611.1 151.2L607.6 148.6L604.1 148.3L598.9 147.8L593.7 144.6L590.2 142.5L588.4 140.2L586.7 136.4L583.2 133.6L577.0 132.9L573.5 129.9L570.6 128.5L569.2 125.0L564.8 124.9L561.3 124.9L557.3 124.5L554.3 122.4L552.0 123.3L549.9 122.8L547.0 123.8L544.7 125.0L543.0 127.7L541.6 128.4L538.6 126.8L535.1 128.0L532.5 126.6L530.5 124.5L530.7 121.5L531.1 117.2L528.1 115.6L522.8 115.8L522.3 112.8L523.7 109.3L524.6 105.8L522.0 105.8L518.7 106.7L518.1 109.3L515.9 110.7L511.5 111.6L508.9 110.2L507.5 107.6L506.2 105.0L505.7 100.6L506.8 96.2L507.1 94.5L510.6 92.2L513.2 91.5L517.6 92.4L520.6 92.7L520.2 90.5L523.7 90.5L527.2 91.3L529.8 91.0L531.6 92.7L532.1 95.3L533.9 98.3L536.1 99.4L536.8 96.6L536.0 93.6L534.6 90.1L535.1 87.5L538.2 85.4L541.2 83.1L544.7 81.7L543.8 78.7L544.7 77.0L546.4 74.4L547.3 72.5L550.8 71.8L554.3 70.9L554.3 69.7L553.1 68.3L556.1 66.5L559.6 65.1L561.3 64.4L563.8 63.7L563.9 64.4L561.3 65.5L561.7 67.0L564.8 65.6L569.2 64.4L571.8 63.2L570.8 61.3L569.2 62.5L566.6 63.4L563.8 62.0L563.2 60.2L564.3 58.0L561.3 57.4L557.8 58.5L554.3 60.8L552.7 61.5L554.0 60.1L556.1 58.8L557.8 57.1L560.4 55.7L564.8 55.5L570.1 55.7L573.5 55.0L576.7 53.4L579.1 51.7L577.9 49.1L573.5 47.3L569.2 44.7L567.4 42.1L563.9 38.0L556.1 40.3L554.3 36.8L547.3 34.6L540.3 34.4L541.2 38.6L542.1 41.5L543.0 44.7L538.6 48.2L537.7 52.5L536.0 53.8L533.3 51.1L532.8 47.3L528.1 46.8L522.8 44.7L515.0 43.6L511.5 40.8L511.5 38.6L513.2 35.9L518.5 32.5L524.6 30.7L526.3 27.2L529.8 22.0L528.1 12.4ZM-66.3 35.3L-69.0 34.2L-76.0 33.7L-78.6 32.3L-83.0 30.7L-88.2 31.1L-89.1 29.8L-82.1 29.0L-81.2 27.2L-81.2 24.6L-87.3 22.0L-92.6 19.4L-92.6 12.4L-78.6 12.4L-71.6 20.2L-69.0 22.8L-64.6 25.5L-60.9 27.0L-63.7 29.0L-66.3 30.7L-66.0 32.5L-66.3 34.2ZM563.1 35.3L560.4 34.2L553.4 33.7L550.8 32.3L546.4 30.7L541.2 31.1L540.3 29.8L547.3 29.0L548.2 27.2L548.2 24.6L542.1 22.0L536.8 19.4L536.8 12.4L550.8 12.4L557.8 20.2L560.4 22.8L564.8 25.5L568.5 27.0L565.7 29.0L563.1 30.7L563.4 32.5L563.1 34.2ZM-93.4 31.6L-103.1 32.1L-104.8 30.7L-103.1 28.1L-99.6 29.0L-94.3 30.7ZM536.0 31.6L526.3 32.1L524.6 30.7L526.3 28.1L529.8 29.0L535.1 30.7ZM-56.6 60.2L-54.8 58.7L-55.7 58.0L-53.8 56.6L-52.5 54.8L-49.9 53.2L-49.9 55.0L-50.8 56.0L-49.7 56.7L-47.1 56.9L-46.2 58.1L-45.4 59.5L-44.8 60.2L-45.4 61.8L-46.4 62.0L-47.1 60.9L-49.4 61.5L-50.6 60.2ZM572.8 60.2L574.6 58.7L573.7 58.0L575.6 56.6L576.9 54.8L579.5 53.2L579.5 55.0L578.6 56.0L579.7 56.7L582.3 56.9L583.2 58.1L584.0 59.5L584.6 60.2L584.0 61.8L583.0 62.0L582.3 60.9L580.0 61.5L578.8 60.2ZM-177.0 54.6L-171.2 56.0L-168.3 58.8L-170.7 58.5L-173.0 57.4L-176.5 55.9ZM452.4 54.6L458.2 56.0L461.1 58.8L458.7 58.5L456.4 57.4L452.9 55.9ZM-101.3 105.1L-96.9 103.0L-93.4 103.0L-88.2 105.3L-84.9 106.5L-82.3 108.1L-88.0 108.8L-89.1 107.2L-94.3 105.7L-97.8 105.0ZM528.1 105.1L532.5 103.0L536.0 103.0L541.2 105.3L544.5 106.5L547.1 108.1L541.4 108.8L540.3 107.2L535.1 105.7L531.6 105.0ZM-83.0 111.2L-80.0 108.6L-75.1 109.0L-72.1 110.9L-76.0 111.6L-77.7 112.6L-80.3 111.8ZM546.4 111.2L549.4 108.6L554.3 109.0L557.3 110.9L553.4 111.6L551.7 112.6L549.1 111.8ZM-89.6 111.2L-85.9 111.9L-87.3 112.5L-89.4 111.6ZM539.8 111.2L543.5 111.9L542.1 112.5L540.0 111.6ZM-70.2 111.1L-67.4 111.2L-67.6 111.9L-70.2 111.9ZM559.2 111.1L562.0 111.2L561.8 111.9L559.2 111.9ZM-65.1 62.0L-61.1 62.2L-61.4 62.7L-64.6 62.5ZM564.3 62.0L568.3 62.2L568.0 62.7L564.8 62.5ZM-60.2 63.6L-57.6 63.2L-58.5 61.3L-60.2 62.2ZM569.2 63.6L571.8 63.2L570.9 61.3L569.2 62.2ZM-225.3 110.0L-223.7 109.3L-225.1 108.1L-225.6 109.0ZM404.1 110.0L405.7 109.3L404.3 108.1L403.8 109.0ZM-226.7 106.9L-225.4 107.0L-226.1 107.4ZM402.7 106.9L404.0 107.0L403.3 107.4ZM-229.5 105.7L-228.4 106.0L-229.1 106.2ZM399.9 105.7L401.0 106.0L400.3 106.2ZM-232.1 104.6L-231.2 104.6L-231.6 105.1ZM397.3 104.6L398.2 104.6L397.8 105.1ZM-222.8 42.1L-219.3 41.7L-219.3 43.1L-221.9 44.2ZM406.6 42.1L410.1 41.7L410.1 43.1L407.5 44.2ZM-59.9 233.0L-55.0 233.0L-53.8 233.7L-55.9 234.6L-59.0 234.2ZM569.5 233.0L574.4 233.0L575.6 233.7L573.5 234.6L570.4 234.2ZM-19.1 237.7L-15.6 238.1L-16.0 238.8L-18.3 238.4ZM610.3 237.7L613.8 238.1L613.4 238.8L611.1 238.4ZM143.8 179.9L144.9 180.1L144.5 180.8ZM773.2 179.9L774.3 180.1L773.9 180.8ZM147.5 178.3L148.4 178.5L148.0 179.2ZM776.9 178.3L777.8 178.5L777.4 179.2ZM167.6 228.5L170.6 229.0L169.7 230.0L167.9 229.9ZM797.0 228.5L800.0 229.0L799.1 230.0L797.3 229.9ZM-97.8 34.7L-95.7 34.0L-96.9 33.3L-98.7 33.7ZM531.6 34.7L533.7 34.0L532.5 33.3L530.7 33.7ZM-93.4 35.4L-91.7 35.1L-92.6 34.6ZM536.0 35.4L537.7 35.1L536.8 34.6ZM62.3 71.1L63.7 71.1L63.9 68.4L62.3 69.5ZM691.7 71.1L693.1 71.1L693.3 68.4L691.7 69.5ZM62.0 75.3L64.1 75.1L64.4 71.8L61.6 71.9ZM691.4 75.3L693.5 75.1L693.8 71.8L691.0 71.9ZM69.0 77.4L74.6 76.7L73.7 79.3L69.2 77.7ZM698.4 77.4L704.0 76.7L703.1 79.3L698.6 77.7ZM88.4 81.7L93.3 81.9L92.8 82.2L88.6 82.1ZM717.8 81.7L722.7 81.9L722.2 82.2L718.0 82.1ZM103.8 82.6L107.8 81.0L106.6 82.2L104.8 82.9ZM733.2 82.6L737.2 81.0L736.0 82.2L734.2 82.9ZM34.2 35.1L35.8 34.6L35.4 35.9ZM663.6 35.1L665.2 34.6L664.8 35.9ZM-89.9 96.7L-87.3 96.9L-87.8 97.3L-89.9 97.1ZM539.5 96.7L542.1 96.9L541.6 97.3L539.5 97.1ZM-89.4 99.4L-88.7 101.1L-89.1 101.3L-89.8 100.1ZM540.0 99.4L540.7 101.1L540.3 101.3L539.6 100.1ZM-60.9 124.5L-59.2 124.5L-59.3 125.7L-60.9 125.7ZM568.5 124.5L570.2 124.5L570.1 125.7L568.5 125.7ZM209.4 119.8L209.9 122.4L209.5 123.3L209.0 121.5ZM838.8 119.8L839.3 122.4L838.9 123.3L838.4 121.5ZM326.5 159.6L328.4 160.2L328.1 160.7L326.7 160.3ZM955.9 159.6L957.8 160.2L957.5 160.7L956.1 160.3ZM-245.4 49.7L-243.3 48.5L-242.2 49.1L-244.3 50.3ZM384.0 49.7L386.1 48.5L387.2 49.1L385.1 50.3ZM-248.9 50.7L-246.8 49.6L-245.7 50.2L-247.8 51.3ZM380.5 50.7L382.6 49.6L383.7 50.2L381.6 51.3ZM-252.4 51.6L-250.3 50.4L-249.2 51.1L-251.3 52.2ZM377.0 51.6L379.1 50.4L380.2 51.1L378.1 52.2ZM-255.9 52.3L-253.8 51.1L-252.7 51.8L-254.8 52.9ZM373.5 52.3L375.6 51.1L376.7 51.8L374.6 52.9ZM-259.4 52.6L-257.3 51.5L-256.2 52.1L-258.3 53.2ZM370.0 52.6L372.1 51.5L373.2 52.1L371.1 53.2ZM-262.9 53.2L-260.8 52.0L-259.7 52.6L-261.8 53.8ZM366.5 53.2L368.6 52.0L369.7 52.6L367.6 53.8ZM-265.5 53.3L-263.4 52.2L-262.3 52.8L-264.4 53.9ZM363.9 53.3L366.0 52.2L367.1 52.8L365.0 53.9ZM-268.1 53.9L-266.1 52.7L-265.0 53.3L-267.0 54.5ZM361.3 53.9L363.3 52.7L364.4 53.3L362.4 54.5ZM356.9 53.0L359.0 51.8L360.1 52.5L358.0 53.6ZM986.3 53.0L988.4 51.8L989.5 52.5L987.4 53.6ZM353.4 52.5L355.5 51.3L356.6 51.9L354.5 53.1ZM982.8 52.5L984.9 51.3L986.0 51.9L983.9 53.1ZM349.1 51.4L351.1 50.3L352.2 50.9L350.2 52.0ZM978.5 51.4L980.5 50.3L981.6 50.9L979.6 52.0ZM302.2 67.0L303.8 65.8L304.7 66.4L303.1 67.6ZM931.6 67.0L933.2 65.8L934.1 66.4L932.5 67.6ZM304.8 65.4L306.4 64.2L307.3 64.9L305.7 66.0ZM934.2 65.4L935.8 64.2L936.7 64.9L935.1 66.0ZM307.5 64.0L309.0 62.9L309.9 63.5L308.3 64.6ZM936.9 64.0L938.4 62.9L939.3 63.5L937.7 64.6ZM310.1 62.4L311.7 61.3L312.5 61.9L310.9 63.0ZM939.5 62.4L941.1 61.3L941.9 61.9L940.3 63.0ZM312.7 60.7L314.3 59.5L315.1 60.1L313.6 61.3ZM942.1 60.7L943.7 59.5L944.5 60.1L943.0 61.3ZM315.3 58.9L316.9 57.8L317.8 58.4L316.2 59.5ZM944.7 58.9L946.3 57.8L947.2 58.4L945.6 59.5ZM317.9 56.6L319.5 55.5L320.4 56.1L318.8 57.3ZM947.3 56.6L948.9 55.5L949.8 56.1L948.2 57.3ZM319.3 55.3L320.9 54.1L321.8 54.7L320.2 55.9ZM948.7 55.3L950.3 54.1L951.2 54.7L949.6 55.9ZM66.5 47.0L69.2 46.6L69.3 45.6L67.4 45.6ZM695.9 47.0L698.6 46.6L698.7 45.6L696.8 45.6ZM64.8 47.1L66.2 46.8L65.7 46.3L64.6 46.4ZM694.2 47.1L695.6 46.8L695.1 46.3L694.0 46.4ZM78.9 43.5L80.3 42.9L80.2 42.2L79.3 42.8ZM708.3 43.5L709.7 42.9L709.6 42.2L708.7 42.8ZM257.8 119.8L259.7 120.2L259.2 121.9L258.1 121.5ZM887.2 119.8L889.1 120.2L888.6 121.9L887.5 121.5ZM263.0 123.8L264.3 124.3L264.6 126.4L263.0 126.6ZM892.4 123.8L893.7 124.3L894.0 126.4L892.4 126.6ZM261.5 124.3L262.7 124.5L262.7 127.3L261.5 126.6ZM890.9 124.3L892.1 124.5L892.1 127.3L890.9 126.6Z" fill="#cec1b2"/>
<path d="M96.3 71.2L98.0 71.4L101.5 71.6L105.0 70.0L108.5 70.0L111.1 71.2L114.6 71.9L119.9 70.9L120.2 69.1L117.2 67.6L113.7 65.8L112.0 64.8L114.6 61.6L109.4 64.2L105.9 65.8L104.1 64.1L105.9 63.0L101.5 62.0L99.8 63.4L99.1 64.8L97.3 66.5L95.9 69.0ZM725.7 71.2L727.4 71.4L730.9 71.6L734.4 70.0L737.9 70.0L740.5 71.2L744.0 71.9L749.3 70.9L749.6 69.1L746.6 67.6L743.1 65.8L741.4 64.8L744.0 61.6L738.8 64.2L735.3 65.8L733.5 64.1L735.3 63.0L730.9 62.0L729.2 63.4L728.5 64.8L726.7 66.5L725.3 69.0ZM133.0 62.2L137.3 61.3L140.0 62.2L140.0 64.2L137.0 65.6L136.8 67.9L139.4 70.0L139.6 71.8L141.5 72.5L140.0 74.4L141.5 78.2L137.3 79.1L134.4 77.9L133.0 76.1L133.8 73.2L135.2 73.0L133.5 71.2L131.2 69.1L130.3 67.4L129.5 65.6L130.3 63.6ZM762.4 62.2L766.7 61.3L769.4 62.2L769.4 64.2L766.4 65.6L766.2 67.9L768.8 70.0L769.0 71.8L770.9 72.5L769.4 74.4L770.9 78.2L766.7 79.1L763.8 77.9L762.4 76.1L763.2 73.2L764.6 73.0L762.9 71.2L760.6 69.1L759.7 67.4L758.9 65.6L759.7 63.6ZM149.2 62.2L153.9 62.0L154.8 64.2L152.2 66.5L149.6 66.5ZM778.6 62.2L783.3 62.0L784.2 64.2L781.6 66.5L779.0 66.5ZM228.6 53.4L230.9 53.1L235.2 50.8L238.7 46.4L238.9 45.9L237.9 47.3L234.0 50.3L230.0 52.7ZM858.0 53.4L860.3 53.1L864.6 50.8L868.1 46.4L868.3 45.9L867.3 47.3L863.4 50.3L859.4 52.7ZM107.6 27.2L110.2 30.2L112.9 31.6L118.1 30.5L117.2 27.7L124.2 27.7L119.0 26.3L113.7 27.6L108.5 26.7ZM737.0 27.2L739.6 30.2L742.3 31.6L747.5 30.5L746.6 27.7L753.6 27.7L748.4 26.3L743.1 27.6L737.9 26.7ZM99.8 37.7L104.1 37.3L103.2 35.8L100.6 36.3ZM729.2 37.7L733.5 37.3L732.6 35.8L730.0 36.3ZM108.1 36.3L110.2 35.9L109.9 33.7L108.1 34.6ZM737.5 36.3L739.6 35.9L739.3 33.7L737.5 34.6ZM176.7 61.6L182.8 62.7L185.4 62.3L185.4 61.5L178.4 61.3ZM806.1 61.6L812.2 62.7L814.8 62.3L814.8 61.5L807.8 61.3ZM102.7 144.3L106.7 143.4L107.1 146.0L105.0 147.8L102.7 146.9ZM732.1 144.3L736.1 143.4L736.5 146.0L734.4 147.8L732.1 146.9ZM98.4 149.5L99.2 149.8L101.1 156.5L101.5 158.4L100.4 158.1L98.7 153.9ZM727.8 149.5L728.6 149.8L730.5 156.5L730.9 158.4L729.8 158.1L728.1 153.9ZM107.1 160.2L107.8 160.5L108.5 164.3L109.0 168.4L107.8 167.5L107.1 163.5ZM736.5 160.2L737.2 160.5L737.9 164.3L738.4 168.4L737.2 167.5L736.5 163.5ZM-113.7 61.8L-110.1 60.2L-107.4 59.0L-103.9 58.1L-101.3 59.5L-100.4 62.2L-103.9 62.3L-106.6 60.6L-109.2 61.6ZM515.7 61.8L519.4 60.2L522.0 59.0L525.5 58.1L528.1 59.5L529.0 62.2L525.5 62.3L522.8 60.6L520.2 61.6ZM-106.2 70.7L-104.8 70.7L-103.6 69.1L-103.4 66.5L-102.2 64.4L-101.0 63.4L-103.9 63.2L-105.7 64.4L-106.6 66.0L-105.9 68.3ZM523.2 70.7L524.6 70.7L525.8 69.1L526.0 66.5L527.2 64.4L528.4 63.4L525.5 63.2L523.7 64.4L522.8 66.0L523.5 68.3ZM-100.4 63.2L-98.7 63.0L-94.3 63.4L-92.6 65.1L-95.5 68.1L-96.8 68.3L-98.3 66.0L-100.4 63.9ZM529.0 63.2L530.7 63.0L535.1 63.4L536.8 65.1L533.9 68.1L532.6 68.3L531.1 66.0L529.0 63.9ZM-98.5 70.5L-94.3 69.7L-90.6 68.4L-91.9 69.1L-95.2 70.9ZM530.9 70.5L535.1 69.7L538.8 68.4L537.5 69.1L534.2 70.9ZM-92.2 67.7L-86.1 67.4L-86.1 66.3L-89.1 66.5L-91.5 67.0ZM537.2 67.7L543.3 67.4L543.3 66.3L540.3 66.5L537.9 67.0ZM-169.5 29.8L-162.5 26.7L-159.0 27.6L-162.5 29.0ZM459.9 29.8L466.9 26.7L470.4 27.6L466.9 29.0ZM-157.3 36.8L-150.3 35.4L-145.9 34.2L-152.0 34.6L-156.4 35.9ZM472.1 36.8L479.1 35.4L483.5 34.2L477.4 34.6L473.0 35.9ZM-122.6 55.2L-121.4 55.2L-122.3 52.5L-124.9 49.4L-126.1 49.9L-123.7 52.5ZM506.8 55.2L508.0 55.2L507.1 52.5L504.5 49.4L503.3 49.9L505.7 52.5ZM-147.6 41.0L-142.4 40.0L-142.4 39.3L-147.3 40.5ZM481.8 41.0L487.0 40.0L487.0 39.3L482.1 40.5ZM-132.1 44.7L-131.0 43.5L-131.4 41.9L-132.1 43.3ZM497.3 44.7L498.4 43.5L498.0 41.9L497.3 43.3ZM-128.4 51.1L-126.7 52.0L-124.9 54.3L-125.4 55.7L-126.7 53.8L-128.1 52.2ZM501.0 51.1L502.7 52.0L504.5 54.3L504.0 55.7L502.7 53.8L501.3 52.2ZM-155.5 23.0L-148.5 24.9L-141.5 24.9L-138.0 23.7L-141.5 22.5L-148.5 22.5L-155.5 21.4ZM473.9 23.0L480.9 24.9L487.9 24.9L491.4 23.7L487.9 22.5L480.9 22.5L473.9 21.4ZM-131.0 24.2L-124.0 24.9L-119.7 24.1L-122.3 22.8L-127.5 22.8ZM498.4 24.2L505.4 24.9L509.7 24.1L507.1 22.8L501.9 22.8ZM-199.2 21.8L-188.7 23.0L-178.2 21.4L-169.5 22.1L-164.2 21.3L-164.2 19.4L-199.2 19.4ZM430.2 21.8L440.7 23.0L451.2 21.4L459.9 22.1L465.2 21.3L465.2 19.4L430.2 19.4ZM-74.9 169.9L-73.3 170.6L-73.0 171.7L-74.2 171.0ZM554.5 169.9L556.1 170.6L556.4 171.7L555.2 171.0ZM108.5 64.2L111.3 64.1L113.7 63.0L116.0 60.9L113.7 61.1L109.0 62.5ZM737.9 64.2L740.7 64.1L743.1 63.0L745.4 60.9L743.1 61.1L738.4 62.5Z" fill="#eff6ff"/>
</g>
<rect x="52.4" y="61.2" width="47.0" height="28.9" fill="none" stroke="#000" stroke-width="1.8" stroke-linejoin="round"/>
<rect x="405.9" y="35.2" width="31.0" height="16.8" fill="none" stroke="#000" stroke-width="1.8" stroke-linejoin="round"/>
<rect x="535.1" y="79.0" width="20.8" height="14.9" fill="none" stroke="#000" stroke-width="1.8" stroke-linejoin="round"/>
<rect x="414.1" y="135.0" width="105.3" height="16.8" fill="none" stroke="#000" stroke-width="1.8" stroke-linejoin="round"/>
<rect x="47.3" y="21.1" width="629.4" height="227.1" fill="none" stroke="#000" stroke-width="2"/>
<path d="M47.3 21.1V12.6M47.3 248.2V256.7M64.8 21.1V16.8M64.8 248.2V252.5M82.3 21.1V16.8M82.3 248.2V252.5M99.8 21.1V12.6M99.8 248.2V256.7M117.2 21.1V16.8M117.2 248.2V252.5M134.7 21.1V16.8M134.7 248.2V252.5M152.2 21.1V12.6M152.2 248.2V256.7M169.7 21.1V16.8M169.7 248.2V252.5M187.2 21.1V16.8M187.2 248.2V252.5M204.7 21.1V12.6M204.7 248.2V256.7M222.1 21.1V16.8M222.1 248.2V252.5M239.6 21.1V16.8M239.6 248.2V252.5M257.1 21.1V12.6M257.1 248.2V256.7M274.6 21.1V16.8M274.6 248.2V252.5M292.1 21.1V16.8M292.1 248.2V252.5M309.6 21.1V12.6M309.6 248.2V256.7M327.0 21.1V16.8M327.0 248.2V252.5M344.5 21.1V16.8M344.5 248.2V252.5M362.0 21.1V12.6M362.0 248.2V256.7M379.5 21.1V16.8M379.5 248.2V252.5M397.0 21.1V16.8M397.0 248.2V252.5M414.5 21.1V12.6M414.5 248.2V256.7M431.9 21.1V16.8M431.9 248.2V252.5M449.4 21.1V16.8M449.4 248.2V252.5M466.9 21.1V12.6M466.9 248.2V256.7M484.4 21.1V16.8M484.4 248.2V252.5M501.9 21.1V16.8M501.9 248.2V252.5M519.4 21.1V12.6M519.4 248.2V256.7M536.8 21.1V16.8M536.8 248.2V252.5M554.3 21.1V16.8M554.3 248.2V252.5M571.8 21.1V12.6M571.8 248.2V256.7M589.3 21.1V16.8M589.3 248.2V252.5M606.8 21.1V16.8M606.8 248.2V252.5M624.2 21.1V12.6M624.2 248.2V256.7M641.7 21.1V16.8M641.7 248.2V252.5M659.2 21.1V16.8M659.2 248.2V252.5M676.7 21.1V12.6M676.7 248.2V256.7M47.3 248.2H38.8M676.7 248.2H685.2M47.3 230.7H43.0M676.7 230.7H681.0M47.3 213.3H43.0M676.7 213.3H681.0M47.3 195.8H38.8M676.7 195.8H685.2M47.3 178.3H43.0M676.7 178.3H681.0M47.3 160.9H43.0M676.7 160.9H681.0M47.3 143.4H38.8M676.7 143.4H685.2M47.3 125.9H43.0M676.7 125.9H681.0M47.3 108.4H43.0M676.7 108.4H681.0M47.3 91.0H38.8M676.7 91.0H685.2M47.3 73.5H43.0M676.7 73.5H681.0M47.3 56.0H43.0M676.7 56.0H681.0M47.3 38.6H38.8M676.7 38.6H685.2M47.3 21.1H43.0M676.7 21.1H681.0" stroke="#000" stroke-width="1.9" fill="none"/>
<text x="32.5" y="42.8" text-anchor="end" class="ml">60N</text>
<text x="32.5" y="95.2" text-anchor="end" class="ml">30N</text>
<text x="32.5" y="147.6" text-anchor="end" class="ml">0</text>
<text x="32.5" y="200.0" text-anchor="end" class="ml">30S</text>
<text x="32.5" y="252.4" text-anchor="end" class="ml">60S</text>
<text x="47.3" y="271.5" text-anchor="middle" class="ml">0</text>
<text x="99.8" y="271.5" text-anchor="middle" class="ml">30E</text>
<text x="152.2" y="271.5" text-anchor="middle" class="ml">60E</text>
<text x="204.7" y="271.5" text-anchor="middle" class="ml">90E</text>
<text x="257.1" y="271.5" text-anchor="middle" class="ml">120E</text>
<text x="309.6" y="271.5" text-anchor="middle" class="ml">150E</text>
<text x="362.0" y="271.5" text-anchor="middle" class="ml">180</text>
<text x="414.5" y="271.5" text-anchor="middle" class="ml">150W</text>
<text x="466.9" y="271.5" text-anchor="middle" class="ml">120W</text>
<text x="519.4" y="271.5" text-anchor="middle" class="ml">90W</text>
<text x="571.8" y="271.5" text-anchor="middle" class="ml">60W</text>
<text x="624.2" y="271.5" text-anchor="middle" class="ml">30W</text>
<text x="676.7" y="271.5" text-anchor="middle" class="ml">0</text>
<text transform="translate(47.1 9.8) scale(0.92 1)" class="pl" style="font-size:17px">a</text>
<defs><clipPath id="ccb"><rect x="54.8" y="318.4" width="255.5" height="256.0"/></clipPath></defs>
<g fill="none" stroke-linejoin="round" stroke-linecap="round">
<polyline points="54.8,501.6 76.1,513.3 97.4,517.9 118.7,513.3 140.0,503.6 161.3,481.5 182.6,507.5 203.8,533.8 225.1,516.4 246.4,513.3 267.7,512.1 289.0,497.8 310.3,489.9" stroke="#a0a0a0" stroke-width="2" stroke-dasharray="2.6 1.4" stroke-linecap="butt"/>
<polyline points="54.8,439.7 76.1,448.6 97.4,450.2 118.7,437.8 140.0,430.8 161.3,401.6 182.6,455.4 203.8,482.9 225.1,463.3 246.4,453.4 267.7,453.2 289.0,452.0 310.3,448.6" stroke="#0000cc" stroke-width="3.6"/>
<polyline points="54.8,452.0 76.1,450.1 97.4,448.2 118.7,447.0 140.0,443.2 161.3,442.0 182.6,453.2 203.8,460.2 225.1,452.0 246.4,447.4 267.7,449.3 289.0,453.2 310.3,455.5" stroke="#cc3333" stroke-width="3.6"/>
<polyline points="54.8,341.1 76.1,340.2 97.4,337.0 118.7,335.0 140.0,334.4 161.3,331.2 182.6,345.0 203.8,344.0 225.1,335.0 246.4,326.7 267.7,326.7 289.0,330.2 310.3,332.5" stroke="#55b4fa" stroke-width="2" stroke-dasharray="2.6 1.4" stroke-linecap="butt"/>
<polyline points="54.8,415.0 76.1,412.3 97.4,407.6 118.7,407.4 140.0,410.8 161.3,416.5 182.6,422.7 203.8,409.9 225.1,406.7 246.4,406.7 267.7,406.7 289.0,402.9 310.3,394.8" stroke="#ffa500" stroke-width="2" stroke-dasharray="2.6 1.4" stroke-linecap="butt"/>
<polyline points="54.8,522.9 76.1,522.9 97.4,524.1 118.7,522.9 140.0,521.8 161.3,510.6 182.6,513.3 203.8,535.4 225.1,545.0 246.4,545.0 267.7,545.0 289.0,557.1 310.3,569.3" stroke="#d4159a" stroke-width="2" stroke-dasharray="2.6 1.4" stroke-linecap="butt"/>
</g>
<rect x="54.8" y="318.4" width="255.5" height="256.0" fill="none" stroke="#000" stroke-width="2"/>
<path d="M54.8 318.4V311.2M54.8 574.4V581.6M65.4 318.4V314.8M65.4 574.4V578.0M76.1 318.4V314.8M76.1 574.4V578.0M86.7 318.4V314.8M86.7 574.4V578.0M97.4 318.4V311.2M97.4 574.4V581.6M108.0 318.4V314.8M108.0 574.4V578.0M118.7 318.4V314.8M118.7 574.4V578.0M129.3 318.4V314.8M129.3 574.4V578.0M140.0 318.4V311.2M140.0 574.4V581.6M150.6 318.4V314.8M150.6 574.4V578.0M161.3 318.4V314.8M161.3 574.4V578.0M171.9 318.4V314.8M171.9 574.4V578.0M182.6 318.4V311.2M182.6 574.4V581.6M193.2 318.4V314.8M193.2 574.4V578.0M203.8 318.4V314.8M203.8 574.4V578.0M214.5 318.4V314.8M214.5 574.4V578.0M225.1 318.4V311.2M225.1 574.4V581.6M235.8 318.4V314.8M235.8 574.4V578.0M246.4 318.4V314.8M246.4 574.4V578.0M257.1 318.4V314.8M257.1 574.4V578.0M267.7 318.4V311.2M267.7 574.4V581.6M278.4 318.4V314.8M278.4 574.4V578.0M289.0 318.4V314.8M289.0 574.4V578.0M299.7 318.4V314.8M299.7 574.4V578.0M310.3 318.4V311.2M310.3 574.4V581.6M54.8 574.4H47.2M310.3 574.4H317.9M54.8 561.6H51.1M310.3 561.6H314.0M54.8 548.8H51.1M310.3 548.8H314.0M54.8 536.0H51.1M310.3 536.0H314.0M54.8 523.2H51.1M310.3 523.2H314.0M54.8 510.4H47.2M310.3 510.4H317.9M54.8 497.6H51.1M310.3 497.6H314.0M54.8 484.8H51.1M310.3 484.8H314.0M54.8 472.0H51.1M310.3 472.0H314.0M54.8 459.2H51.1M310.3 459.2H314.0M54.8 446.4H47.2M310.3 446.4H317.9M54.8 433.6H51.1M310.3 433.6H314.0M54.8 420.8H51.1M310.3 420.8H314.0M54.8 408.0H51.1M310.3 408.0H314.0M54.8 395.2H51.1M310.3 395.2H314.0M54.8 382.4H47.2M310.3 382.4H317.9M54.8 369.6H51.1M310.3 369.6H314.0M54.8 356.8H51.1M310.3 356.8H314.0M54.8 344.0H51.1M310.3 344.0H314.0M54.8 331.2H51.1M310.3 331.2H314.0M54.8 318.4H47.2M310.3 318.4H317.9" stroke="#000" stroke-width="1.9" fill="none"/>
<text x="40.2" y="323.2" text-anchor="end" class="tl">2</text>
<path d="M36.8 377.2V387.6M36.5 377.6Q35.6 379.4 33.5 379.7" stroke="#000" stroke-width="1.55" fill="none"/>
<text x="40.2" y="451.2" text-anchor="end" class="tl">0</text>
<path d="M36.8 505.2V515.6M36.5 505.6Q35.6 507.4 33.5 507.7" stroke="#000" stroke-width="1.55" fill="none"/>
<text x="32.5" y="515.8" text-anchor="end" class="tl">-</text>
<text x="40.2" y="579.2" text-anchor="end" class="tl">-2</text>
<text x="54.4" y="598.4" text-anchor="middle" class="tl">-6</text>
<text x="97.0" y="598.4" text-anchor="middle" class="tl">-4</text>
<text x="139.6" y="598.4" text-anchor="middle" class="tl">-2</text>
<text x="182.2" y="598.4" text-anchor="middle" class="tl">0</text>
<text x="224.7" y="598.4" text-anchor="middle" class="tl">2</text>
<text x="267.3" y="598.4" text-anchor="middle" class="tl">4</text>
<text x="309.9" y="598.4" text-anchor="middle" class="tl">6</text>
<text x="185.6" y="617.8" text-anchor="middle" class="al">Time (month)</text>
<text transform="translate(15.2 446.9) rotate(-90)" text-anchor="middle" class="al">Heat budget (10<tspan dy="-7.5" font-size="10.5">-4</tspan><tspan dy="7.5"> </tspan><tspan dy="-7.5" font-size="10.5">o</tspan><tspan dy="7.5">C/s)</tspan></text>
<text transform="translate(54.2 304.6) scale(0.9 1)" class="pl">b</text>
<text x="313.1" y="306.4" text-anchor="end" class="tt">Niño 3.4</text>
<defs><clipPath id="ccc"><rect x="419.2" y="318.3" width="256.1" height="256.0"/></clipPath></defs>
<g fill="none" stroke-linejoin="round" stroke-linecap="round">
<polyline points="419.2,443.1 440.5,441.2 461.9,439.9 483.2,439.9 504.6,441.2 525.9,435.4 547.2,446.3 568.6,456.5 589.9,450.8 611.3,450.1 632.6,448.9 654.0,446.9 675.3,445.7" stroke="#a0a0a0" stroke-width="2" stroke-dasharray="2.6 1.4" stroke-linecap="butt"/>
<polyline points="419.2,454.0 440.5,430.9 461.9,410.0 483.2,398.3 504.6,399.1 525.9,385.0 547.2,442.5 568.6,499.7 589.9,478.9 611.3,486.0 632.6,487.9 654.0,482.8 675.3,461.7" stroke="#0000cc" stroke-width="3.6"/>
<polyline points="419.2,459.7 440.5,449.2 461.9,431.6 483.2,416.2 504.6,401.5 525.9,357.7 547.2,414.5 568.6,471.9 589.9,460.4 611.3,464.9 632.6,468.1 654.0,468.7 675.3,464.9" stroke="#cc3333" stroke-width="3.6"/>
<polyline points="419.2,466.1 440.5,451.4 461.9,439.9 483.2,430.3 504.6,420.7 525.9,403.8 547.2,419.8 568.6,485.3 589.9,471.9 611.3,481.5 632.6,481.5 654.0,479.6 675.3,471.9" stroke="#55b4fa" stroke-width="2" stroke-dasharray="2.6 1.4" stroke-linecap="butt"/>
<polyline points="419.2,445.7 440.5,446.0 461.9,446.3 483.2,446.3 504.6,446.6 525.9,447.6 547.2,446.6 568.6,446.0 589.9,446.0 611.3,446.0 632.6,446.0 654.0,445.7 675.3,445.7" stroke="#ffa500" stroke-width="2" stroke-dasharray="2.6 1.4" stroke-linecap="butt"/>
<polyline points="419.2,435.4 440.5,435.4 461.9,436.1 483.2,438.6 504.6,443.1 525.9,446.3 547.2,448.2 568.6,440.5 589.9,438.0 611.3,437.3 632.6,436.1 654.0,436.1 675.3,434.8" stroke="#d4159a" stroke-width="2" stroke-dasharray="2.6 1.4" stroke-linecap="butt"/>
</g>
<rect x="419.2" y="318.3" width="256.1" height="256.0" fill="none" stroke="#000" stroke-width="2"/>
<path d="M419.2 318.3V311.1M419.2 574.3V581.5M429.9 318.3V314.7M429.9 574.3V577.9M440.5 318.3V314.7M440.5 574.3V577.9M451.2 318.3V314.7M451.2 574.3V577.9M461.9 318.3V311.1M461.9 574.3V581.5M472.6 318.3V314.7M472.6 574.3V577.9M483.2 318.3V314.7M483.2 574.3V577.9M493.9 318.3V314.7M493.9 574.3V577.9M504.6 318.3V311.1M504.6 574.3V581.5M515.2 318.3V314.7M515.2 574.3V577.9M525.9 318.3V314.7M525.9 574.3V577.9M536.6 318.3V314.7M536.6 574.3V577.9M547.2 318.3V311.1M547.2 574.3V581.5M557.9 318.3V314.7M557.9 574.3V577.9M568.6 318.3V314.7M568.6 574.3V577.9M579.3 318.3V314.7M579.3 574.3V577.9M589.9 318.3V311.1M589.9 574.3V581.5M600.6 318.3V314.7M600.6 574.3V577.9M611.3 318.3V314.7M611.3 574.3V577.9M621.9 318.3V314.7M621.9 574.3V577.9M632.6 318.3V311.1M632.6 574.3V581.5M643.3 318.3V314.7M643.3 574.3V577.9M654.0 318.3V314.7M654.0 574.3V577.9M664.6 318.3V314.7M664.6 574.3V577.9M675.3 318.3V311.1M675.3 574.3V581.5M419.2 574.3H411.6M675.3 574.3H682.9M419.2 561.5H415.5M675.3 561.5H679.0M419.2 548.7H415.5M675.3 548.7H679.0M419.2 535.9H415.5M675.3 535.9H679.0M419.2 523.1H415.5M675.3 523.1H679.0M419.2 510.3H411.6M675.3 510.3H682.9M419.2 497.5H415.5M675.3 497.5H679.0M419.2 484.7H415.5M675.3 484.7H679.0M419.2 471.9H415.5M675.3 471.9H679.0M419.2 459.1H415.5M675.3 459.1H679.0M419.2 446.3H411.6M675.3 446.3H682.9M419.2 433.5H415.5M675.3 433.5H679.0M419.2 420.7H415.5M675.3 420.7H679.0M419.2 407.9H415.5M675.3 407.9H679.0M419.2 395.1H415.5M675.3 395.1H679.0M419.2 382.3H411.6M675.3 382.3H682.9M419.2 369.5H415.5M675.3 369.5H679.0M419.2 356.7H415.5M675.3 356.7H679.0M419.2 343.9H415.5M675.3 343.9H679.0M419.2 331.1H415.5M675.3 331.1H679.0M419.2 318.3H411.6M675.3 318.3H682.9" stroke="#000" stroke-width="1.9" fill="none"/>
<text x="404.6" y="323.1" text-anchor="end" class="tl">2</text>
<path d="M401.2 377.1V387.5M400.9 377.5Q400.0 379.3 397.9 379.6" stroke="#000" stroke-width="1.55" fill="none"/>
<text x="404.6" y="451.1" text-anchor="end" class="tl">0</text>
<path d="M401.2 505.1V515.5M400.9 505.5Q400.0 507.3 397.9 507.6" stroke="#000" stroke-width="1.55" fill="none"/>
<text x="396.9" y="515.7" text-anchor="end" class="tl">-</text>
<text x="404.6" y="579.1" text-anchor="end" class="tl">-2</text>
<text x="418.8" y="598.3" text-anchor="middle" class="tl">-6</text>
<text x="461.5" y="598.3" text-anchor="middle" class="tl">-4</text>
<text x="504.2" y="598.3" text-anchor="middle" class="tl">-2</text>
<text x="546.9" y="598.3" text-anchor="middle" class="tl">0</text>
<text x="589.5" y="598.3" text-anchor="middle" class="tl">2</text>
<text x="632.2" y="598.3" text-anchor="middle" class="tl">4</text>
<text x="674.9" y="598.3" text-anchor="middle" class="tl">6</text>
<text x="550.2" y="617.7" text-anchor="middle" class="al">Time (month)</text>
<text transform="translate(379.6 446.8) rotate(-90)" text-anchor="middle" class="al">Heat budget (10<tspan dy="-7.5" font-size="10.5">-4</tspan><tspan dy="7.5"> </tspan><tspan dy="-7.5" font-size="10.5">o</tspan><tspan dy="7.5">C/s)</tspan></text>
<text transform="translate(419.6 306.6) scale(0.9 1)" class="pl">c</text>
<text x="680.5" y="306.3" text-anchor="end" class="tt">Mediterranean Sea</text>
<defs><clipPath id="ccd"><rect x="55.3" y="657.0" width="255.8" height="256.0"/></clipPath></defs>
<g fill="none" stroke-linejoin="round" stroke-linecap="round">
<polyline points="55.3,780.1 76.6,779.4 97.9,778.2 119.2,778.2 140.6,780.1 161.9,774.3 183.2,786.0 204.5,794.9 225.8,789.9 247.2,788.7 268.5,787.1 289.8,786.0 311.1,784.0" stroke="#a0a0a0" stroke-width="2" stroke-dasharray="2.6 1.4" stroke-linecap="butt"/>
<polyline points="55.3,792.6 76.6,770.4 97.9,749.2 119.2,737.4 140.6,737.4 161.9,723.0 183.2,778.6 204.5,837.6 225.8,818.3 247.2,824.4 268.5,826.3 289.8,821.7 311.1,800.7" stroke="#0000cc" stroke-width="3.6"/>
<polyline points="55.3,783.3 76.6,778.2 97.9,767.7 119.2,754.9 140.6,742.4 161.9,708.3 183.2,747.2 204.5,781.3 225.8,778.2 247.2,782.9 268.5,791.8 289.8,792.6 311.1,794.5" stroke="#cc3333" stroke-width="3.6"/>
<polyline points="55.3,809.3 76.6,787.9 97.9,768.5 119.2,754.9 140.6,751.1 161.9,734.8 183.2,786.0 204.5,837.6 225.8,824.8 247.2,834.5 268.5,836.4 289.8,835.2 311.1,820.8" stroke="#55b4fa" stroke-width="2" stroke-dasharray="2.6 1.4" stroke-linecap="butt"/>
<polyline points="55.3,783.3 76.6,784.0 97.9,784.8 119.2,785.2 140.6,786.0 161.9,786.3 183.2,786.7 204.5,785.6 225.8,784.8 247.2,784.4 268.5,784.4 289.8,784.0 311.1,784.0" stroke="#ffa500" stroke-width="2" stroke-dasharray="2.6 1.4" stroke-linecap="butt"/>
<polyline points="55.3,771.6 76.6,772.2 97.9,775.1 119.2,777.4 140.6,784.0 161.9,791.8 183.2,789.9 204.5,774.3 225.8,765.8 247.2,762.0 268.5,763.5 289.8,766.6 311.1,766.6" stroke="#d4159a" stroke-width="2" stroke-dasharray="2.6 1.4" stroke-linecap="butt"/>
</g>
<rect x="55.3" y="657.0" width="255.8" height="256.0" fill="none" stroke="#000" stroke-width="2"/>
<path d="M55.3 657.0V649.8M55.3 913.0V920.2M66.0 657.0V653.4M66.0 913.0V916.6M76.6 657.0V653.4M76.6 913.0V916.6M87.3 657.0V653.4M87.3 913.0V916.6M97.9 657.0V649.8M97.9 913.0V920.2M108.6 657.0V653.4M108.6 913.0V916.6M119.2 657.0V653.4M119.2 913.0V916.6M129.9 657.0V653.4M129.9 913.0V916.6M140.6 657.0V649.8M140.6 913.0V920.2M151.2 657.0V653.4M151.2 913.0V916.6M161.9 657.0V653.4M161.9 913.0V916.6M172.5 657.0V653.4M172.5 913.0V916.6M183.2 657.0V649.8M183.2 913.0V920.2M193.9 657.0V653.4M193.9 913.0V916.6M204.5 657.0V653.4M204.5 913.0V916.6M215.2 657.0V653.4M215.2 913.0V916.6M225.8 657.0V649.8M225.8 913.0V920.2M236.5 657.0V653.4M236.5 913.0V916.6M247.2 657.0V653.4M247.2 913.0V916.6M257.8 657.0V653.4M257.8 913.0V916.6M268.5 657.0V649.8M268.5 913.0V920.2M279.1 657.0V653.4M279.1 913.0V916.6M289.8 657.0V653.4M289.8 913.0V916.6M300.4 657.0V653.4M300.4 913.0V916.6M311.1 657.0V649.8M311.1 913.0V920.2M55.3 913.0H47.7M311.1 913.0H318.7M55.3 900.2H51.6M311.1 900.2H314.8M55.3 887.4H51.6M311.1 887.4H314.8M55.3 874.6H51.6M311.1 874.6H314.8M55.3 861.8H51.6M311.1 861.8H314.8M55.3 849.0H47.7M311.1 849.0H318.7M55.3 836.2H51.6M311.1 836.2H314.8M55.3 823.4H51.6M311.1 823.4H314.8M55.3 810.6H51.6M311.1 810.6H314.8M55.3 797.8H51.6M311.1 797.8H314.8M55.3 785.0H47.7M311.1 785.0H318.7M55.3 772.2H51.6M311.1 772.2H314.8M55.3 759.4H51.6M311.1 759.4H314.8M55.3 746.6H51.6M311.1 746.6H314.8M55.3 733.8H51.6M311.1 733.8H314.8M55.3 721.0H47.7M311.1 721.0H318.7M55.3 708.2H51.6M311.1 708.2H314.8M55.3 695.4H51.6M311.1 695.4H314.8M55.3 682.6H51.6M311.1 682.6H314.8M55.3 669.8H51.6M311.1 669.8H314.8M55.3 657.0H47.7M311.1 657.0H318.7" stroke="#000" stroke-width="1.9" fill="none"/>
<text x="40.7" y="661.8" text-anchor="end" class="tl">2</text>
<path d="M37.3 715.8V726.2M37.0 716.2Q36.1 718.0 34.0 718.3" stroke="#000" stroke-width="1.55" fill="none"/>
<text x="40.7" y="789.8" text-anchor="end" class="tl">0</text>
<path d="M37.3 843.8V854.2M37.0 844.2Q36.1 846.0 34.0 846.3" stroke="#000" stroke-width="1.55" fill="none"/>
<text x="33.0" y="854.4" text-anchor="end" class="tl">-</text>
<text x="40.7" y="917.8" text-anchor="end" class="tl">-2</text>
<text x="54.9" y="937.0" text-anchor="middle" class="tl">-6</text>
<text x="97.5" y="937.0" text-anchor="middle" class="tl">-4</text>
<text x="140.2" y="937.0" text-anchor="middle" class="tl">-2</text>
<text x="182.8" y="937.0" text-anchor="middle" class="tl">0</text>
<text x="225.4" y="937.0" text-anchor="middle" class="tl">2</text>
<text x="268.1" y="937.0" text-anchor="middle" class="tl">4</text>
<text x="310.7" y="937.0" text-anchor="middle" class="tl">6</text>
<text x="186.2" y="956.4" text-anchor="middle" class="al">Time (month)</text>
<text transform="translate(15.7 785.5) rotate(-90)" text-anchor="middle" class="al">Heat budget (10<tspan dy="-7.5" font-size="10.5">-4</tspan><tspan dy="7.5"> </tspan><tspan dy="-7.5" font-size="10.5">o</tspan><tspan dy="7.5">C/s)</tspan></text>
<text transform="translate(55.5 644.1) scale(0.9 1)" class="pl">d</text>
<text x="313.0" y="645.0" text-anchor="end" class="tt">Gulf of Alaska</text>
<defs><clipPath id="cce"><rect x="418.2" y="656.8" width="256.1" height="256.2"/></clipPath></defs>
<g fill="none" stroke-linejoin="round" stroke-linecap="round">
<polyline points="418.2,770.6 439.5,770.6 460.9,769.8 482.2,769.8 503.6,768.6 524.9,767.0 546.2,771.4 567.6,772.5 588.9,771.7 610.3,771.3 631.6,770.9 653.0,770.6 674.3,770.2" stroke="#a0a0a0" stroke-width="2" stroke-dasharray="2.6 1.4" stroke-linecap="butt"/>
<polyline points="418.2,788.7 439.5,786.1 460.9,781.0 482.2,777.2 503.6,773.6 524.9,755.4 546.2,780.4 567.6,813.3 588.9,793.0 610.3,790.7 631.6,790.7 653.0,791.1 674.3,790.0" stroke="#0000cc" stroke-width="3.6"/>
<polyline points="418.2,797.7 439.5,794.6 460.9,785.3 482.2,775.6 503.6,762.8 524.9,741.3 546.2,762.0 567.6,788.0 588.9,783.4 610.3,788.0 631.6,793.9 653.0,797.7 674.3,798.9" stroke="#cc3333" stroke-width="3.6"/>
<polyline points="418.2,838.9 439.5,837.7 460.9,830.8 482.2,824.9 503.6,819.1 524.9,795.0 546.2,815.2 567.6,862.4 588.9,846.4 610.3,843.7 631.6,843.7 653.0,843.7 674.3,842.5" stroke="#55b4fa" stroke-width="2" stroke-dasharray="2.6 1.4" stroke-linecap="butt"/>
<polyline points="418.2,762.7 439.5,762.0 460.9,762.0 482.2,762.5 503.6,763.1 524.9,766.0 546.2,770.6 567.6,765.0 588.9,762.5 610.3,762.0 631.6,761.6 653.0,762.0 674.3,762.5" stroke="#ffa500" stroke-width="2" stroke-dasharray="2.6 1.4" stroke-linecap="butt"/>
<polyline points="418.2,771.3 439.5,769.4 460.9,770.6 482.2,773.4 503.6,777.2 524.9,782.3 546.2,779.1 567.6,768.6 588.9,769.4 610.3,769.8 631.6,770.6 653.0,770.6 674.3,769.4" stroke="#d4159a" stroke-width="2" stroke-dasharray="2.6 1.4" stroke-linecap="butt"/>
</g>
<rect x="418.2" y="656.8" width="256.1" height="256.2" fill="none" stroke="#000" stroke-width="2"/>
<path d="M418.2 656.8V649.6M418.2 913.0V920.2M428.9 656.8V653.2M428.9 913.0V916.6M439.5 656.8V653.2M439.5 913.0V916.6M450.2 656.8V653.2M450.2 913.0V916.6M460.9 656.8V649.6M460.9 913.0V920.2M471.6 656.8V653.2M471.6 913.0V916.6M482.2 656.8V653.2M482.2 913.0V916.6M492.9 656.8V653.2M492.9 913.0V916.6M503.6 656.8V649.6M503.6 913.0V920.2M514.2 656.8V653.2M514.2 913.0V916.6M524.9 656.8V653.2M524.9 913.0V916.6M535.6 656.8V653.2M535.6 913.0V916.6M546.2 656.8V649.6M546.2 913.0V920.2M556.9 656.8V653.2M556.9 913.0V916.6M567.6 656.8V653.2M567.6 913.0V916.6M578.3 656.8V653.2M578.3 913.0V916.6M588.9 656.8V649.6M588.9 913.0V920.2M599.6 656.8V653.2M599.6 913.0V916.6M610.3 656.8V653.2M610.3 913.0V916.6M620.9 656.8V653.2M620.9 913.0V916.6M631.6 656.8V649.6M631.6 913.0V920.2M642.3 656.8V653.2M642.3 913.0V916.6M653.0 656.8V653.2M653.0 913.0V916.6M663.6 656.8V653.2M663.6 913.0V916.6M674.3 656.8V649.6M674.3 913.0V920.2M418.2 913.0H410.6M674.3 913.0H681.9M418.2 900.2H414.5M674.3 900.2H678.0M418.2 887.4H414.5M674.3 887.4H678.0M418.2 874.6H414.5M674.3 874.6H678.0M418.2 861.8H414.5M674.3 861.8H678.0M418.2 849.0H410.6M674.3 849.0H681.9M418.2 836.1H414.5M674.3 836.1H678.0M418.2 823.3H414.5M674.3 823.3H678.0M418.2 810.5H414.5M674.3 810.5H678.0M418.2 797.7H414.5M674.3 797.7H678.0M418.2 784.9H410.6M674.3 784.9H681.9M418.2 772.1H414.5M674.3 772.1H678.0M418.2 759.3H414.5M674.3 759.3H678.0M418.2 746.5H414.5M674.3 746.5H678.0M418.2 733.7H414.5M674.3 733.7H678.0M418.2 720.8H410.6M674.3 720.8H681.9M418.2 708.0H414.5M674.3 708.0H678.0M418.2 695.2H414.5M674.3 695.2H678.0M418.2 682.4H414.5M674.3 682.4H678.0M418.2 669.6H414.5M674.3 669.6H678.0M418.2 656.8H410.6M674.3 656.8H681.9" stroke="#000" stroke-width="1.9" fill="none"/>
<text x="403.6" y="661.6" text-anchor="end" class="tl">2</text>
<path d="M400.2 715.6V726.0M399.9 716.0Q399.0 717.8 396.9 718.1" stroke="#000" stroke-width="1.55" fill="none"/>
<text x="403.6" y="789.7" text-anchor="end" class="tl">0</text>
<path d="M400.2 843.8V854.2M399.9 844.2Q399.0 846.0 396.9 846.3" stroke="#000" stroke-width="1.55" fill="none"/>
<text x="395.9" y="854.4" text-anchor="end" class="tl">-</text>
<text x="403.6" y="917.8" text-anchor="end" class="tl">-2</text>
<text x="417.8" y="937.0" text-anchor="middle" class="tl">-6</text>
<text x="460.5" y="937.0" text-anchor="middle" class="tl">-4</text>
<text x="503.2" y="937.0" text-anchor="middle" class="tl">-2</text>
<text x="545.9" y="937.0" text-anchor="middle" class="tl">0</text>
<text x="588.5" y="937.0" text-anchor="middle" class="tl">2</text>
<text x="631.2" y="937.0" text-anchor="middle" class="tl">4</text>
<text x="673.9" y="937.0" text-anchor="middle" class="tl">6</text>
<text x="549.2" y="956.4" text-anchor="middle" class="al">Time (month)</text>
<text transform="translate(377.6 785.4) rotate(-90)" text-anchor="middle" class="al">Heat budget (10<tspan dy="-7.5" font-size="10.5">-4</tspan><tspan dy="7.5"> </tspan><tspan dy="-7.5" font-size="10.5">o</tspan><tspan dy="7.5">C/s)</tspan></text>
<text transform="translate(419.6 644.9) scale(0.9 1)" class="pl">e</text>
<text x="678.9" y="644.2" text-anchor="end" class="tt">Gulf Stream</text>
<line x1="40.5" y1="985.2" x2="101.7" y2="985.2" stroke="#0000cc" stroke-width="2.2"/>
<text x="111.1" y="989.9" class="lg">Dynamic ocean</text>
<line x1="391.2" y1="987.5" x2="451.7" y2="987.5" stroke="#cc3333" stroke-width="2.2"/>
<text x="461.2" y="994.1" class="lg">Slab ocean</text>
<line x1="39.0" y1="1012.9" x2="105.0" y2="1012.9" stroke="#a0a0a0" stroke-width="2" stroke-dasharray="4 3"/>
<text x="111.1" y="1020.2" class="lg">Advective tendency</text>
<line x1="390.0" y1="1015.1" x2="455.2" y2="1015.1" stroke="#d4159a" stroke-width="2" stroke-dasharray="4 3"/>
<text x="461.2" y="1021.0" class="lg">Vertical diffusion tendency</text>
<line x1="39.0" y1="1041.3" x2="105.0" y2="1041.3" stroke="#ffa500" stroke-width="2" stroke-dasharray="4 3"/>
<text x="111.1" y="1049.0" class="lg">Horizontal diffusion tendency</text>
<line x1="390.0" y1="1044.3" x2="455.2" y2="1044.3" stroke="#55b4fa" stroke-width="2" stroke-dasharray="4 3"/>
<text x="461.2" y="1049.0" class="lg">SHF + QSW</text>
<rect x="26.2" y="745.1" width="1.8" height="2.8" fill="#888"/>
</svg>
</body></html>
